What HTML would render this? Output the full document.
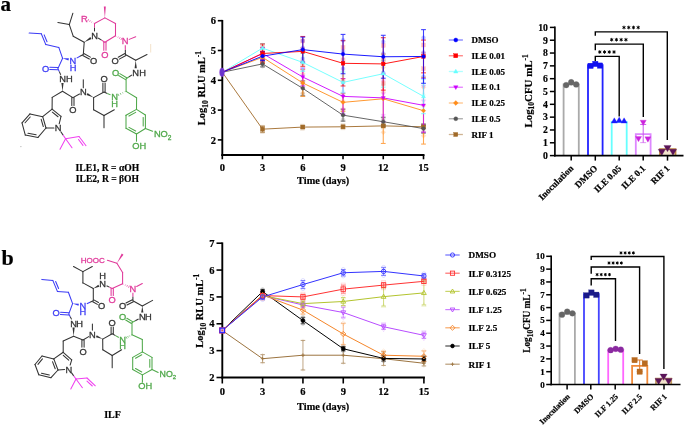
<!DOCTYPE html>
<html><head><meta charset="utf-8"><style>
html,body{margin:0;padding:0;background:#fff;}
body{width:685px;height:426px;overflow:hidden;font-family:"Liberation Serif",serif;}
svg{display:block;will-change:transform;}
</style></head><body>
<svg width="685" height="426" viewBox="0 0 685 426">
<rect width="685" height="426" fill="#fff"/>
<text x="0.6" y="11" font-family='"Liberation Serif", serif' font-size="21" font-weight="bold" fill="#000" text-anchor="start" stroke="#000" stroke-width="0.2" >a</text>
<text x="1.5" y="264.8" font-family='"Liberation Serif", serif' font-size="22" font-weight="bold" fill="#000" text-anchor="start" stroke="#000" stroke-width="0.2" >b</text>
<line x1="29.1" y1="33" x2="41.3" y2="33.8" stroke="#3b3bf5" stroke-width="1.05" stroke-linecap="round"/>
<line x1="45.8" y1="44.6" x2="58.8" y2="47.4" stroke="#3b3bf5" stroke-width="1.05" stroke-linecap="round"/>
<line x1="58.8" y1="47.4" x2="62.6" y2="58.3" stroke="#3b3bf5" stroke-width="1.05" stroke-linecap="round"/>
<line x1="62.6" y1="58.3" x2="57.9" y2="68.6" stroke="#3b3bf5" stroke-width="1.05" stroke-linecap="round"/>
<line x1="41.3" y1="33.8" x2="45.8" y2="44.6" stroke="#3b3bf5" stroke-width="1.05" stroke-linecap="round"/>
<line x1="44.14" y1="34.9" x2="47.02" y2="41.81" stroke="#3b3bf5" stroke-width="1.05" stroke-linecap="round"/>
<polygon points="62.6,58.3 68.47,60.5 68.87,58.34" fill="#3b3bf5"/>
<line x1="57.86" y1="69.7" x2="49.76" y2="69.44" stroke="#3b3bf5" stroke-width="1.05" stroke-linecap="round"/>
<line x1="57.94" y1="67.5" x2="49.83" y2="67.24" stroke="#3b3bf5" stroke-width="1.05" stroke-linecap="round"/>
<line x1="57.9" y1="68.6" x2="59.3" y2="71.65" stroke="#3b3bf5" stroke-width="1.05" stroke-linecap="butt"/>
<line x1="59.3" y1="71.65" x2="60.7" y2="74.69" stroke="#333" stroke-width="1.05" stroke-linecap="butt"/>
<line x1="76.67" y1="58.13" x2="79.99" y2="56.32" stroke="#3b3bf5" stroke-width="1.05" stroke-linecap="butt"/>
<line x1="79.99" y1="56.32" x2="83.3" y2="54.5" stroke="#333" stroke-width="1.05" stroke-linecap="butt"/>
<line x1="83.83" y1="53.54" x2="90.37" y2="57.16" stroke="#333" stroke-width="1.05" stroke-linecap="round"/>
<line x1="82.77" y1="55.46" x2="89.31" y2="59.08" stroke="#333" stroke-width="1.05" stroke-linecap="round"/>
<line x1="83.3" y1="54.5" x2="84.2" y2="42.3" stroke="#333" stroke-width="1.05" stroke-linecap="round"/>
<line x1="84.2" y1="42.3" x2="73.2" y2="36.2" stroke="#333" stroke-width="1.05" stroke-linecap="round"/>
<line x1="73.2" y1="36.2" x2="69.3" y2="24.6" stroke="#333" stroke-width="1.05" stroke-linecap="round"/>
<line x1="69.3" y1="24.6" x2="57.9" y2="22.6" stroke="#333" stroke-width="1.05" stroke-linecap="round"/>
<line x1="69.3" y1="24.6" x2="72.9" y2="13.2" stroke="#333" stroke-width="1.05" stroke-linecap="round"/>
<polygon points="84.2,42.3 91.47,38.95 90.29,37.09" fill="#333"/>
<line x1="94.5" y1="23.5" x2="104.9" y2="17.9" stroke="#e0399a" stroke-width="1.05" stroke-linecap="round"/>
<line x1="104.9" y1="17.9" x2="115.5" y2="23.5" stroke="#e0399a" stroke-width="1.05" stroke-linecap="round"/>
<line x1="115.5" y1="23.5" x2="115.5" y2="35.7" stroke="#e0399a" stroke-width="1.05" stroke-linecap="round"/>
<line x1="94.5" y1="31.4" x2="94.5" y2="27.45" stroke="#333" stroke-width="1.05" stroke-linecap="butt"/>
<line x1="94.5" y1="27.45" x2="94.5" y2="23.5" stroke="#e0399a" stroke-width="1.05" stroke-linecap="butt"/>
<line x1="98.13" y1="38" x2="101.52" y2="40.15" stroke="#333" stroke-width="1.05" stroke-linecap="butt"/>
<line x1="101.52" y1="40.15" x2="104.9" y2="42.3" stroke="#e0399a" stroke-width="1.05" stroke-linecap="butt"/>
<line x1="115.5" y1="35.7" x2="104.9" y2="42.3" stroke="#e0399a" stroke-width="1.05" stroke-linecap="round"/>
<line x1="106" y1="42.3" x2="106" y2="50.2" stroke="#e0399a" stroke-width="1.05" stroke-linecap="round"/>
<line x1="103.8" y1="42.3" x2="103.8" y2="50.2" stroke="#e0399a" stroke-width="1.05" stroke-linecap="round"/>
<line x1="93.63" y1="22.84" x2="93.46" y2="23.16" stroke="#e0399a" stroke-width="0.7" />
<line x1="91.97" y1="21.6" x2="91.49" y2="22.52" stroke="#e0399a" stroke-width="0.7" />
<line x1="90.32" y1="20.36" x2="89.53" y2="21.89" stroke="#e0399a" stroke-width="0.7" />
<line x1="88.67" y1="19.12" x2="87.56" y2="21.25" stroke="#e0399a" stroke-width="0.7" />
<polygon points="104.9,17.9 105.8,6.59 103.8,6.61" fill="#e0399a"/>
<line x1="116.3" y1="36.34" x2="116.48" y2="36.03" stroke="#e0399a" stroke-width="0.7" />
<line x1="117.82" y1="37.56" x2="118.32" y2="36.65" stroke="#e0399a" stroke-width="0.7" />
<line x1="119.33" y1="38.78" x2="120.16" y2="37.27" stroke="#e0399a" stroke-width="0.7" />
<line x1="120.85" y1="39.99" x2="122" y2="37.89" stroke="#e0399a" stroke-width="0.7" />
<line x1="129.18" y1="39.37" x2="135.7" y2="36.7" stroke="#e0399a" stroke-width="1.05" stroke-linecap="round"/>
<line x1="125.26" y1="45.3" x2="125.33" y2="49.9" stroke="#e0399a" stroke-width="1.05" stroke-linecap="butt"/>
<line x1="125.33" y1="49.9" x2="125.4" y2="54.5" stroke="#333" stroke-width="1.05" stroke-linecap="butt"/>
<line x1="125.93" y1="55.46" x2="119.3" y2="59.1" stroke="#333" stroke-width="1.05" stroke-linecap="round"/>
<line x1="124.87" y1="53.54" x2="118.24" y2="57.17" stroke="#333" stroke-width="1.05" stroke-linecap="round"/>
<line x1="125.4" y1="54.5" x2="135.7" y2="60.2" stroke="#333" stroke-width="1.05" stroke-linecap="round"/>
<line x1="135.7" y1="60.2" x2="147" y2="54.5" stroke="#333" stroke-width="1.05" stroke-linecap="round"/>
<polygon points="135.7,60.2 134.6,68.3 136.8,68.3" fill="#333"/>
<line x1="132.07" y1="74.91" x2="129.09" y2="76.8" stroke="#333" stroke-width="1.05" stroke-linecap="butt"/>
<line x1="129.09" y1="76.8" x2="126.1" y2="78.7" stroke="#4fa84a" stroke-width="1.05" stroke-linecap="butt"/>
<line x1="125.54" y1="79.65" x2="118.63" y2="75.54" stroke="#4fa84a" stroke-width="1.05" stroke-linecap="round"/>
<line x1="126.66" y1="77.75" x2="119.76" y2="73.65" stroke="#4fa84a" stroke-width="1.05" stroke-linecap="round"/>
<line x1="126.1" y1="78.7" x2="126.1" y2="91.4" stroke="#4fa84a" stroke-width="1.05" stroke-linecap="round"/>
<line x1="124.87" y1="91.75" x2="125.02" y2="92.08" stroke="#4fa84a" stroke-width="0.7" />
<line x1="122.56" y1="92.42" x2="122.99" y2="93.37" stroke="#4fa84a" stroke-width="0.7" />
<line x1="120.25" y1="93.08" x2="120.95" y2="94.65" stroke="#4fa84a" stroke-width="0.7" />
<line x1="117.93" y1="93.75" x2="118.91" y2="95.94" stroke="#4fa84a" stroke-width="0.7" />
<line x1="126.1" y1="91.4" x2="136.6" y2="97.7" stroke="#4fa84a" stroke-width="1.05" stroke-linecap="round"/>
<line x1="136.6" y1="97.7" x2="136.5" y2="109.4" stroke="#4fa84a" stroke-width="1.05" stroke-linecap="round"/>
<line x1="136.5" y1="109.4" x2="145.4" y2="115" stroke="#4fa84a" stroke-width="1.05" stroke-linecap="round"/>
<line x1="145.4" y1="115" x2="145.4" y2="128.5" stroke="#4fa84a" stroke-width="1.05" stroke-linecap="round"/>
<line x1="143.2" y1="117.43" x2="143.2" y2="126.07" stroke="#4fa84a" stroke-width="1.05" stroke-linecap="round"/>
<line x1="145.4" y1="128.5" x2="136.5" y2="134" stroke="#4fa84a" stroke-width="1.05" stroke-linecap="round"/>
<line x1="136.5" y1="134" x2="126" y2="128.3" stroke="#4fa84a" stroke-width="1.05" stroke-linecap="round"/>
<line x1="135.66" y1="131.04" x2="128.94" y2="127.39" stroke="#4fa84a" stroke-width="1.05" stroke-linecap="round"/>
<line x1="126" y1="128.3" x2="126" y2="115.2" stroke="#4fa84a" stroke-width="1.05" stroke-linecap="round"/>
<line x1="126" y1="115.2" x2="136.5" y2="109.4" stroke="#4fa84a" stroke-width="1.05" stroke-linecap="round"/>
<line x1="128.95" y1="116.08" x2="135.67" y2="112.37" stroke="#4fa84a" stroke-width="1.05" stroke-linecap="round"/>
<line x1="145.4" y1="128.5" x2="152.6" y2="131.2" stroke="#4fa84a" stroke-width="1.05" stroke-linecap="round"/>
<line x1="136.5" y1="134" x2="136.5" y2="141.2" stroke="#4fa84a" stroke-width="1.05" stroke-linecap="round"/>
<polygon points="62.5,91.2 63.6,82.9 61.4,82.9" fill="#333"/>
<line x1="62.5" y1="91.2" x2="52.2" y2="97.4" stroke="#333" stroke-width="1.05" stroke-linecap="round"/>
<line x1="52.2" y1="97.4" x2="52.1" y2="109.2" stroke="#333" stroke-width="1.05" stroke-linecap="round"/>
<line x1="62.5" y1="91.2" x2="72.9" y2="97.6" stroke="#333" stroke-width="1.05" stroke-linecap="round"/>
<line x1="74" y1="97.6" x2="74" y2="105.5" stroke="#333" stroke-width="1.05" stroke-linecap="round"/>
<line x1="71.8" y1="97.6" x2="71.8" y2="105.5" stroke="#333" stroke-width="1.05" stroke-linecap="round"/>
<line x1="72.9" y1="97.6" x2="79.51" y2="94.04" stroke="#333" stroke-width="1.05" stroke-linecap="round"/>
<line x1="83.3" y1="87.7" x2="83.3" y2="79.7" stroke="#333" stroke-width="1.05" stroke-linecap="round"/>
<polygon points="93.6,97.6 87.6,93.09 86.55,95.02" fill="#333"/>
<line x1="93.6" y1="97.6" x2="104" y2="92" stroke="#333" stroke-width="1.05" stroke-linecap="round"/>
<line x1="102.9" y1="92" x2="102.9" y2="83.1" stroke="#333" stroke-width="1.05" stroke-linecap="round"/>
<line x1="105.1" y1="92" x2="105.1" y2="83.1" stroke="#333" stroke-width="1.05" stroke-linecap="round"/>
<line x1="104" y1="92" x2="107.28" y2="93.44" stroke="#333" stroke-width="1.05" stroke-linecap="butt"/>
<line x1="107.28" y1="93.44" x2="110.56" y2="94.87" stroke="#4fa84a" stroke-width="1.05" stroke-linecap="butt"/>
<line x1="93.6" y1="97.6" x2="93.6" y2="109.8" stroke="#333" stroke-width="1.05" stroke-linecap="round"/>
<line x1="93.6" y1="109.8" x2="104" y2="115.5" stroke="#333" stroke-width="1.05" stroke-linecap="round"/>
<line x1="104" y1="115.5" x2="104" y2="127.7" stroke="#333" stroke-width="1.05" stroke-linecap="round"/>
<line x1="104" y1="115.5" x2="114.3" y2="109.8" stroke="#333" stroke-width="1.05" stroke-linecap="round"/>
<line x1="52.1" y1="109.2" x2="61" y2="116.3" stroke="#333" stroke-width="1.05" stroke-linecap="round"/>
<line x1="52.33" y1="112.2" x2="58.03" y2="116.74" stroke="#333" stroke-width="1.05" stroke-linecap="round"/>
<line x1="61" y1="116.3" x2="59.2" y2="123.82" stroke="#333" stroke-width="1.05" stroke-linecap="round"/>
<line x1="53.9" y1="128" x2="46" y2="128" stroke="#333" stroke-width="1.05" stroke-linecap="round"/>
<line x1="46" y1="128" x2="42.7" y2="116.7" stroke="#333" stroke-width="1.05" stroke-linecap="round"/>
<line x1="43.29" y1="126.58" x2="41.18" y2="119.35" stroke="#333" stroke-width="1.05" stroke-linecap="round"/>
<line x1="42.7" y1="116.7" x2="52.1" y2="109.2" stroke="#333" stroke-width="1.05" stroke-linecap="round"/>
<line x1="42.7" y1="116.7" x2="30" y2="113.9" stroke="#333" stroke-width="1.05" stroke-linecap="round"/>
<line x1="30" y1="113.9" x2="22" y2="122.9" stroke="#333" stroke-width="1.05" stroke-linecap="round"/>
<line x1="30.2" y1="116.98" x2="25.08" y2="122.74" stroke="#333" stroke-width="1.05" stroke-linecap="round"/>
<line x1="22" y1="122.9" x2="25.3" y2="135.1" stroke="#333" stroke-width="1.05" stroke-linecap="round"/>
<line x1="25.3" y1="135.1" x2="38" y2="137.4" stroke="#333" stroke-width="1.05" stroke-linecap="round"/>
<line x1="27.98" y1="133.35" x2="36.11" y2="134.82" stroke="#333" stroke-width="1.05" stroke-linecap="round"/>
<line x1="38" y1="137.4" x2="46" y2="128" stroke="#333" stroke-width="1.05" stroke-linecap="round"/>
<line x1="60.65" y1="131.54" x2="63.12" y2="135.12" stroke="#333" stroke-width="1.05" stroke-linecap="butt"/>
<line x1="63.12" y1="135.12" x2="65.6" y2="138.7" stroke="#f040f0" stroke-width="1.05" stroke-linecap="butt"/>
<line x1="65.6" y1="138.7" x2="60" y2="149.2" stroke="#f040f0" stroke-width="1.05" stroke-linecap="round"/>
<line x1="65.6" y1="138.7" x2="72" y2="147.8" stroke="#f040f0" stroke-width="1.05" stroke-linecap="round"/>
<line x1="65.6" y1="138.7" x2="79" y2="136.5" stroke="#f040f0" stroke-width="1.05" stroke-linecap="round"/>
<line x1="79" y1="136.5" x2="86" y2="145.7" stroke="#f040f0" stroke-width="1.05" stroke-linecap="round"/>
<line x1="78.51" y1="139.49" x2="82.99" y2="145.38" stroke="#f040f0" stroke-width="1.05" stroke-linecap="round"/>
<text x="72.9" y="63.55" font-family='"Liberation Sans", sans-serif' font-size="9.3" font-weight="normal" fill="#3b3bf5" text-anchor="middle" stroke="#3b3bf5" stroke-width="0.3" >N</text>
<text x="45.5" y="71.55" font-family='"Liberation Sans", sans-serif' font-size="9.3" font-weight="normal" fill="#3b3bf5" text-anchor="middle" stroke="#3b3bf5" stroke-width="0.3" >O</text>
<text x="62.5" y="81.95" font-family='"Liberation Sans", sans-serif' font-size="9.3" font-weight="normal" fill="#333" text-anchor="middle" stroke="#333" stroke-width="0.3" >N</text>
<text x="93.6" y="63.55" font-family='"Liberation Sans", sans-serif' font-size="9.3" font-weight="normal" fill="#333" text-anchor="middle" stroke="#333" stroke-width="0.3" >O</text>
<text x="94.5" y="39.05" font-family='"Liberation Sans", sans-serif' font-size="9.3" font-weight="normal" fill="#333" text-anchor="middle" stroke="#333" stroke-width="0.3" >N</text>
<text x="104.9" y="57.85" font-family='"Liberation Sans", sans-serif' font-size="9.3" font-weight="normal" fill="#e0399a" text-anchor="middle" stroke="#e0399a" stroke-width="0.3" >O</text>
<text x="84.3" y="21.55" font-family='"Liberation Sans", sans-serif' font-size="9.3" font-weight="normal" fill="#e0399a" text-anchor="middle" stroke="#e0399a" stroke-width="0.3" >R</text>
<text x="125.2" y="44.35" font-family='"Liberation Sans", sans-serif' font-size="9.3" font-weight="normal" fill="#e0399a" text-anchor="middle" stroke="#e0399a" stroke-width="0.3" >N</text>
<text x="115" y="63.55" font-family='"Liberation Sans", sans-serif' font-size="9.3" font-weight="normal" fill="#333" text-anchor="middle" stroke="#333" stroke-width="0.3" >O</text>
<text x="135.7" y="75.95" font-family='"Liberation Sans", sans-serif' font-size="9.3" font-weight="normal" fill="#333" text-anchor="middle" stroke="#333" stroke-width="0.3" >N</text>
<text x="115.5" y="75.75" font-family='"Liberation Sans", sans-serif' font-size="9.3" font-weight="normal" fill="#4fa84a" text-anchor="middle" stroke="#4fa84a" stroke-width="0.3" >O</text>
<text x="114.5" y="99.95" font-family='"Liberation Sans", sans-serif' font-size="9.3" font-weight="normal" fill="#4fa84a" text-anchor="middle" stroke="#4fa84a" stroke-width="0.3" >N</text>
<text x="72.9" y="113.15" font-family='"Liberation Sans", sans-serif' font-size="9.3" font-weight="normal" fill="#333" text-anchor="middle" stroke="#333" stroke-width="0.3" >O</text>
<text x="83.3" y="95.35" font-family='"Liberation Sans", sans-serif' font-size="9.3" font-weight="normal" fill="#333" text-anchor="middle" stroke="#333" stroke-width="0.3" >N</text>
<text x="104" y="82.15" font-family='"Liberation Sans", sans-serif' font-size="9.3" font-weight="normal" fill="#333" text-anchor="middle" stroke="#333" stroke-width="0.3" >O</text>
<text x="58.2" y="131.35" font-family='"Liberation Sans", sans-serif' font-size="9.3" font-weight="normal" fill="#333" text-anchor="middle" stroke="#333" stroke-width="0.3" >N</text>
<circle cx="20.9" cy="146.6" r="0.6" fill="#aaa"/>
<line x1="150.7" y1="44" x2="150.7" y2="52.5" stroke="#f2dfc4" stroke-width="0.9"/>
<text x="73.1" y="71.05" font-family='"Liberation Sans", sans-serif' font-size="9.3" font-weight="normal" fill="#3b3bf5" text-anchor="middle" stroke="#3b3bf5" stroke-width="0.3" >H</text>
<text x="69.4" y="81.95" font-family='"Liberation Sans", sans-serif' font-size="9.3" font-weight="normal" fill="#333" text-anchor="middle" stroke="#333" stroke-width="0.3" >H</text>
<text x="142.5" y="75.95" font-family='"Liberation Sans", sans-serif' font-size="9.3" font-weight="normal" fill="#333" text-anchor="middle" stroke="#333" stroke-width="0.3" >H</text>
<text x="114.5" y="107.35" font-family='"Liberation Sans", sans-serif' font-size="9.3" font-weight="normal" fill="#4fa84a" text-anchor="middle" stroke="#4fa84a" stroke-width="0.3" >H</text>
<text x="153.9" y="137.35" font-family='"Liberation Sans", sans-serif' font-size="9.3" font-weight="normal" fill="#4fa84a" text-anchor="start" stroke="#4fa84a" stroke-width="0.3" >NO<tspan font-size="6.6" dy="2.2">2</tspan></text>
<text x="139.3" y="149.05" font-family='"Liberation Sans", sans-serif' font-size="9.3" font-weight="normal" fill="#4fa84a" text-anchor="middle" stroke="#4fa84a" stroke-width="0.3" >OH</text>
<text x="107.4" y="171" font-family='"Liberation Serif", serif' font-size="9.6" font-weight="bold" fill="#000" text-anchor="middle" stroke="#000" stroke-width="0.2" >ILE1, R = αOH</text>
<text x="107.4" y="181.5" font-family='"Liberation Serif", serif' font-size="9.6" font-weight="bold" fill="#000" text-anchor="middle" stroke="#000" stroke-width="0.2" >ILE2, R = βOH</text>
<line x1="41.8" y1="279.4" x2="52.8" y2="280.4" stroke="#3b3bf5" stroke-width="1.05" stroke-linecap="round"/>
<line x1="57.4" y1="291.4" x2="68.4" y2="292.3" stroke="#3b3bf5" stroke-width="1.05" stroke-linecap="round"/>
<line x1="68.4" y1="292.3" x2="72.6" y2="303.6" stroke="#3b3bf5" stroke-width="1.05" stroke-linecap="round"/>
<line x1="72.6" y1="303.6" x2="68.8" y2="313.9" stroke="#3b3bf5" stroke-width="1.05" stroke-linecap="round"/>
<line x1="52.8" y1="280.4" x2="57.4" y2="291.4" stroke="#3b3bf5" stroke-width="1.05" stroke-linecap="round"/>
<line x1="55.66" y1="281.53" x2="58.6" y2="288.57" stroke="#3b3bf5" stroke-width="1.05" stroke-linecap="round"/>
<polygon points="72.6,303.6 78.47,305.8 78.87,303.64" fill="#3b3bf5"/>
<line x1="68.72" y1="315" x2="60.41" y2="314.4" stroke="#3b3bf5" stroke-width="1.05" stroke-linecap="round"/>
<line x1="68.88" y1="312.8" x2="60.57" y2="312.21" stroke="#3b3bf5" stroke-width="1.05" stroke-linecap="round"/>
<line x1="68.8" y1="313.9" x2="70.21" y2="316.64" stroke="#3b3bf5" stroke-width="1.05" stroke-linecap="butt"/>
<line x1="70.21" y1="316.64" x2="71.63" y2="319.38" stroke="#333" stroke-width="1.05" stroke-linecap="butt"/>
<line x1="86.82" y1="303.73" x2="90.06" y2="302.26" stroke="#3b3bf5" stroke-width="1.05" stroke-linecap="butt"/>
<line x1="90.06" y1="302.26" x2="93.3" y2="300.8" stroke="#333" stroke-width="1.05" stroke-linecap="butt"/>
<line x1="93.84" y1="299.84" x2="98.48" y2="302.44" stroke="#333" stroke-width="1.05" stroke-linecap="round"/>
<line x1="92.76" y1="301.76" x2="97.41" y2="304.36" stroke="#333" stroke-width="1.05" stroke-linecap="round"/>
<line x1="93.3" y1="300.8" x2="93.3" y2="288.5" stroke="#333" stroke-width="1.05" stroke-linecap="round"/>
<polygon points="93.3,288.5 99.35,286.71 98.36,284.74" fill="#333"/>
<line x1="93.3" y1="288.5" x2="82.9" y2="282.9" stroke="#333" stroke-width="1.05" stroke-linecap="round"/>
<line x1="82.9" y1="282.9" x2="82.9" y2="271.6" stroke="#333" stroke-width="1.05" stroke-linecap="round"/>
<line x1="82.9" y1="271.6" x2="73.5" y2="266.5" stroke="#333" stroke-width="1.05" stroke-linecap="round"/>
<line x1="82.9" y1="271.6" x2="92.3" y2="266.5" stroke="#333" stroke-width="1.05" stroke-linecap="round"/>
<line x1="106.55" y1="285.71" x2="109.38" y2="287.1" stroke="#333" stroke-width="1.05" stroke-linecap="butt"/>
<line x1="109.38" y1="287.1" x2="112.2" y2="288.5" stroke="#e0399a" stroke-width="1.05" stroke-linecap="butt"/>
<line x1="113.3" y1="288.5" x2="113.3" y2="295.5" stroke="#e0399a" stroke-width="1.05" stroke-linecap="round"/>
<line x1="111.1" y1="288.5" x2="111.1" y2="295.5" stroke="#e0399a" stroke-width="1.05" stroke-linecap="round"/>
<line x1="112.2" y1="288.5" x2="122.6" y2="283.8" stroke="#e0399a" stroke-width="1.05" stroke-linecap="round"/>
<line x1="123.48" y1="284.4" x2="123.63" y2="284.07" stroke="#e0399a" stroke-width="0.7" />
<line x1="125.15" y1="285.54" x2="125.58" y2="284.59" stroke="#e0399a" stroke-width="0.7" />
<line x1="126.82" y1="286.67" x2="127.54" y2="285.11" stroke="#e0399a" stroke-width="0.7" />
<line x1="128.49" y1="287.81" x2="129.49" y2="285.62" stroke="#e0399a" stroke-width="0.7" />
<line x1="122.6" y1="283.8" x2="122.6" y2="272.6" stroke="#e0399a" stroke-width="1.05" stroke-linecap="round"/>
<line x1="122.6" y1="272.6" x2="116.9" y2="263.2" stroke="#e0399a" stroke-width="1.05" stroke-linecap="round"/>
<polygon points="116.9,263.2 123.45,254.63 121.75,253.57" fill="#e0399a"/>
<line x1="116.9" y1="263.2" x2="107.4" y2="260.3" stroke="#e0399a" stroke-width="1.05" stroke-linecap="round"/>
<line x1="136.7" y1="286.48" x2="142.3" y2="283.5" stroke="#e0399a" stroke-width="1.05" stroke-linecap="round"/>
<line x1="132.9" y1="292.8" x2="132.9" y2="296.8" stroke="#e0399a" stroke-width="1.05" stroke-linecap="butt"/>
<line x1="132.9" y1="296.8" x2="132.9" y2="300.8" stroke="#333" stroke-width="1.05" stroke-linecap="butt"/>
<line x1="133.4" y1="301.78" x2="126.93" y2="305.04" stroke="#333" stroke-width="1.05" stroke-linecap="round"/>
<line x1="132.4" y1="299.82" x2="125.94" y2="303.08" stroke="#333" stroke-width="1.05" stroke-linecap="round"/>
<line x1="132.9" y1="300.8" x2="142.3" y2="306" stroke="#333" stroke-width="1.05" stroke-linecap="round"/>
<line x1="142.3" y1="306" x2="152.6" y2="300.4" stroke="#333" stroke-width="1.05" stroke-linecap="round"/>
<polygon points="142.3,306 141.2,312.6 143.4,312.6" fill="#333"/>
<line x1="138.54" y1="318.98" x2="135.27" y2="320.79" stroke="#333" stroke-width="1.05" stroke-linecap="butt"/>
<line x1="135.27" y1="320.79" x2="132" y2="322.6" stroke="#4fa84a" stroke-width="1.05" stroke-linecap="butt"/>
<line x1="131.43" y1="323.54" x2="125.71" y2="320.07" stroke="#4fa84a" stroke-width="1.05" stroke-linecap="round"/>
<line x1="132.57" y1="321.66" x2="126.85" y2="318.19" stroke="#4fa84a" stroke-width="1.05" stroke-linecap="round"/>
<line x1="132" y1="322.6" x2="132" y2="334.8" stroke="#4fa84a" stroke-width="1.05" stroke-linecap="round"/>
<line x1="131.09" y1="335.06" x2="131.25" y2="335.38" stroke="#4fa84a" stroke-width="0.7" />
<line x1="129.36" y1="335.54" x2="129.83" y2="336.47" stroke="#4fa84a" stroke-width="0.7" />
<line x1="127.64" y1="336.02" x2="128.4" y2="337.56" stroke="#4fa84a" stroke-width="0.7" />
<line x1="125.91" y1="336.5" x2="126.98" y2="338.65" stroke="#4fa84a" stroke-width="0.7" />
<line x1="132" y1="334.8" x2="142.3" y2="339.5" stroke="#4fa84a" stroke-width="1.05" stroke-linecap="round"/>
<line x1="142.3" y1="339.5" x2="142.4" y2="351.9" stroke="#4fa84a" stroke-width="1.05" stroke-linecap="round"/>
<line x1="142.4" y1="351.9" x2="152" y2="357.4" stroke="#4fa84a" stroke-width="1.05" stroke-linecap="round"/>
<line x1="152" y1="357.4" x2="152" y2="369.5" stroke="#4fa84a" stroke-width="1.05" stroke-linecap="round"/>
<line x1="149.8" y1="359.58" x2="149.8" y2="367.32" stroke="#4fa84a" stroke-width="1.05" stroke-linecap="round"/>
<line x1="152" y1="369.5" x2="142.4" y2="374.9" stroke="#4fa84a" stroke-width="1.05" stroke-linecap="round"/>
<line x1="142.4" y1="374.9" x2="132.7" y2="369.5" stroke="#4fa84a" stroke-width="1.05" stroke-linecap="round"/>
<line x1="141.72" y1="372.01" x2="135.52" y2="368.55" stroke="#4fa84a" stroke-width="1.05" stroke-linecap="round"/>
<line x1="132.7" y1="369.5" x2="132.7" y2="357.4" stroke="#4fa84a" stroke-width="1.05" stroke-linecap="round"/>
<line x1="132.7" y1="357.4" x2="142.4" y2="351.9" stroke="#4fa84a" stroke-width="1.05" stroke-linecap="round"/>
<line x1="135.53" y1="358.32" x2="141.74" y2="354.8" stroke="#4fa84a" stroke-width="1.05" stroke-linecap="round"/>
<line x1="152" y1="369.5" x2="158.2" y2="372.4" stroke="#4fa84a" stroke-width="1.05" stroke-linecap="round"/>
<line x1="142.4" y1="374.9" x2="142.4" y2="382.2" stroke="#4fa84a" stroke-width="1.05" stroke-linecap="round"/>
<polygon points="73.6,336.3 74.7,327.5 72.5,327.5" fill="#333"/>
<line x1="73.6" y1="336.3" x2="63.2" y2="341" stroke="#333" stroke-width="1.05" stroke-linecap="round"/>
<line x1="63.2" y1="341" x2="63.2" y2="352.3" stroke="#333" stroke-width="1.05" stroke-linecap="round"/>
<line x1="73.6" y1="336.3" x2="83" y2="340" stroke="#333" stroke-width="1.05" stroke-linecap="round"/>
<line x1="84.1" y1="340" x2="84.1" y2="347.1" stroke="#333" stroke-width="1.05" stroke-linecap="round"/>
<line x1="81.9" y1="340" x2="81.9" y2="347.1" stroke="#333" stroke-width="1.05" stroke-linecap="round"/>
<line x1="83" y1="340" x2="88.71" y2="336.6" stroke="#333" stroke-width="1.05" stroke-linecap="round"/>
<line x1="92.4" y1="330.1" x2="92.4" y2="324.1" stroke="#333" stroke-width="1.05" stroke-linecap="round"/>
<polygon points="102.7,339.1 96.77,335.18 95.86,337.19" fill="#333"/>
<line x1="102.7" y1="339.1" x2="112.2" y2="333.8" stroke="#333" stroke-width="1.05" stroke-linecap="round"/>
<line x1="111.1" y1="333.8" x2="111.1" y2="326.9" stroke="#333" stroke-width="1.05" stroke-linecap="round"/>
<line x1="113.3" y1="333.8" x2="113.3" y2="326.9" stroke="#333" stroke-width="1.05" stroke-linecap="round"/>
<line x1="112.2" y1="333.8" x2="115.51" y2="335.62" stroke="#333" stroke-width="1.05" stroke-linecap="butt"/>
<line x1="115.51" y1="335.62" x2="118.83" y2="337.43" stroke="#4fa84a" stroke-width="1.05" stroke-linecap="butt"/>
<line x1="102.7" y1="339.1" x2="102.8" y2="349.8" stroke="#333" stroke-width="1.05" stroke-linecap="round"/>
<line x1="102.8" y1="349.8" x2="112.2" y2="355.5" stroke="#333" stroke-width="1.05" stroke-linecap="round"/>
<line x1="112.2" y1="355.5" x2="112.2" y2="367.7" stroke="#333" stroke-width="1.05" stroke-linecap="round"/>
<line x1="112.2" y1="355.5" x2="121.6" y2="349.8" stroke="#333" stroke-width="1.05" stroke-linecap="round"/>
<line x1="63.2" y1="352.3" x2="71.7" y2="359.8" stroke="#333" stroke-width="1.05" stroke-linecap="round"/>
<line x1="63.27" y1="355.3" x2="68.71" y2="360.1" stroke="#333" stroke-width="1.05" stroke-linecap="round"/>
<line x1="71.7" y1="359.8" x2="70.13" y2="365.08" stroke="#333" stroke-width="1.05" stroke-linecap="round"/>
<line x1="64.61" y1="369.51" x2="58" y2="370" stroke="#333" stroke-width="1.05" stroke-linecap="round"/>
<line x1="58" y1="370" x2="53.8" y2="358.9" stroke="#333" stroke-width="1.05" stroke-linecap="round"/>
<line x1="55.19" y1="368.78" x2="52.5" y2="361.68" stroke="#333" stroke-width="1.05" stroke-linecap="round"/>
<line x1="53.8" y1="358.9" x2="63.2" y2="352.3" stroke="#333" stroke-width="1.05" stroke-linecap="round"/>
<line x1="53.8" y1="358.9" x2="42" y2="356" stroke="#333" stroke-width="1.05" stroke-linecap="round"/>
<line x1="42" y1="356" x2="35" y2="364.5" stroke="#333" stroke-width="1.05" stroke-linecap="round"/>
<line x1="42.44" y1="358.93" x2="37.96" y2="364.37" stroke="#333" stroke-width="1.05" stroke-linecap="round"/>
<line x1="35" y1="364.5" x2="38.8" y2="374.8" stroke="#333" stroke-width="1.05" stroke-linecap="round"/>
<line x1="38.8" y1="374.8" x2="51" y2="377.7" stroke="#333" stroke-width="1.05" stroke-linecap="round"/>
<line x1="41.5" y1="373.18" x2="49.31" y2="375.04" stroke="#333" stroke-width="1.05" stroke-linecap="round"/>
<line x1="51" y1="377.7" x2="58" y2="370" stroke="#333" stroke-width="1.05" stroke-linecap="round"/>
<line x1="71.42" y1="372.68" x2="73.71" y2="375.84" stroke="#333" stroke-width="1.05" stroke-linecap="butt"/>
<line x1="73.71" y1="375.84" x2="76" y2="379" stroke="#f040f0" stroke-width="1.05" stroke-linecap="butt"/>
<line x1="76" y1="379" x2="70.8" y2="389" stroke="#f040f0" stroke-width="1.05" stroke-linecap="round"/>
<line x1="76" y1="379" x2="82.4" y2="387.7" stroke="#f040f0" stroke-width="1.05" stroke-linecap="round"/>
<line x1="76" y1="379" x2="87" y2="378" stroke="#f040f0" stroke-width="1.05" stroke-linecap="round"/>
<line x1="87" y1="378" x2="95.3" y2="385.8" stroke="#f040f0" stroke-width="1.05" stroke-linecap="round"/>
<line x1="86.99" y1="381.01" x2="92.3" y2="386" stroke="#f040f0" stroke-width="1.05" stroke-linecap="round"/>
<text x="82.9" y="308.85" font-family='"Liberation Sans", sans-serif' font-size="9.3" font-weight="normal" fill="#3b3bf5" text-anchor="middle" stroke="#3b3bf5" stroke-width="0.3" >N</text>
<text x="56.2" y="316.35" font-family='"Liberation Sans", sans-serif' font-size="9.3" font-weight="normal" fill="#3b3bf5" text-anchor="middle" stroke="#3b3bf5" stroke-width="0.3" >O</text>
<text x="73.6" y="326.55" font-family='"Liberation Sans", sans-serif' font-size="9.3" font-weight="normal" fill="#333" text-anchor="middle" stroke="#333" stroke-width="0.3" >N</text>
<text x="101.7" y="308.85" font-family='"Liberation Sans", sans-serif' font-size="9.3" font-weight="normal" fill="#333" text-anchor="middle" stroke="#333" stroke-width="0.3" >O</text>
<text x="102.7" y="287.15" font-family='"Liberation Sans", sans-serif' font-size="9.3" font-weight="normal" fill="#333" text-anchor="middle" stroke="#333" stroke-width="0.3" >N</text>
<text x="112.2" y="303.15" font-family='"Liberation Sans", sans-serif' font-size="9.3" font-weight="normal" fill="#e0399a" text-anchor="middle" stroke="#e0399a" stroke-width="0.3" >O</text>
<text x="132.9" y="291.85" font-family='"Liberation Sans", sans-serif' font-size="9.3" font-weight="normal" fill="#e0399a" text-anchor="middle" stroke="#e0399a" stroke-width="0.3" >N</text>
<text x="122.6" y="309.35" font-family='"Liberation Sans", sans-serif' font-size="9.3" font-weight="normal" fill="#333" text-anchor="middle" stroke="#333" stroke-width="0.3" >O</text>
<text x="142.3" y="320.25" font-family='"Liberation Sans", sans-serif' font-size="9.3" font-weight="normal" fill="#333" text-anchor="middle" stroke="#333" stroke-width="0.3" >N</text>
<text x="122.6" y="320.25" font-family='"Liberation Sans", sans-serif' font-size="9.3" font-weight="normal" fill="#4fa84a" text-anchor="middle" stroke="#4fa84a" stroke-width="0.3" >O</text>
<text x="122.6" y="342.85" font-family='"Liberation Sans", sans-serif' font-size="9.3" font-weight="normal" fill="#4fa84a" text-anchor="middle" stroke="#4fa84a" stroke-width="0.3" >N</text>
<text x="83" y="354.75" font-family='"Liberation Sans", sans-serif' font-size="9.3" font-weight="normal" fill="#333" text-anchor="middle" stroke="#333" stroke-width="0.3" >O</text>
<text x="92.4" y="337.75" font-family='"Liberation Sans", sans-serif' font-size="9.3" font-weight="normal" fill="#333" text-anchor="middle" stroke="#333" stroke-width="0.3" >N</text>
<text x="112.2" y="325.95" font-family='"Liberation Sans", sans-serif' font-size="9.3" font-weight="normal" fill="#333" text-anchor="middle" stroke="#333" stroke-width="0.3" >O</text>
<text x="68.9" y="372.55" font-family='"Liberation Sans", sans-serif' font-size="9.3" font-weight="normal" fill="#333" text-anchor="middle" stroke="#333" stroke-width="0.3" >N</text>
<text x="82.9" y="315.35" font-family='"Liberation Sans", sans-serif' font-size="9.3" font-weight="normal" fill="#3b3bf5" text-anchor="middle" stroke="#3b3bf5" stroke-width="0.3" >H</text>
<text x="79.6" y="326.55" font-family='"Liberation Sans", sans-serif' font-size="9.3" font-weight="normal" fill="#333" text-anchor="middle" stroke="#333" stroke-width="0.3" >H</text>
<text x="102.7" y="278.75" font-family='"Liberation Sans", sans-serif' font-size="9.3" font-weight="normal" fill="#333" text-anchor="middle" stroke="#333" stroke-width="0.3" >H</text>
<text x="148.3" y="320.25" font-family='"Liberation Sans", sans-serif' font-size="9.3" font-weight="normal" fill="#333" text-anchor="middle" stroke="#333" stroke-width="0.3" >H</text>
<text x="122.6" y="349.35" font-family='"Liberation Sans", sans-serif' font-size="9.3" font-weight="normal" fill="#4fa84a" text-anchor="middle" stroke="#4fa84a" stroke-width="0.3" >H</text>
<text x="104.7" y="263.2" font-family='"Liberation Sans", sans-serif' font-size="8.0" font-weight="normal" fill="#e0399a" text-anchor="end" stroke="#e0399a" stroke-width="0.3" >HOOC</text>
<text x="159.6" y="377.4" font-family='"Liberation Sans", sans-serif' font-size="8.8" font-weight="normal" fill="#4fa84a" text-anchor="start" stroke="#4fa84a" stroke-width="0.3" >NO<tspan font-size="6.0" dy="2.0">2</tspan></text>
<text x="145.3" y="389.15" font-family='"Liberation Sans", sans-serif' font-size="9.3" font-weight="normal" fill="#4fa84a" text-anchor="middle" stroke="#4fa84a" stroke-width="0.3" >OH</text>
<text x="112.5" y="418.3" font-family='"Liberation Serif", serif' font-size="10" font-weight="bold" fill="#000" text-anchor="middle" stroke="#000" stroke-width="0.2" >ILF</text>
<line x1="222.3" y1="19.9" x2="222.3" y2="156" stroke="#000" stroke-width="1.9" />
<line x1="217.8" y1="20.7" x2="222.3" y2="20.7" stroke="#000" stroke-width="1.6" />
<text x="216.1" y="24.3" font-family='"Liberation Serif", serif' font-size="10.5" font-weight="bold" fill="#000" text-anchor="end" stroke="#000" stroke-width="0.2" >6</text>
<line x1="217.8" y1="50.5" x2="222.3" y2="50.5" stroke="#000" stroke-width="1.6" />
<text x="216.1" y="54.1" font-family='"Liberation Serif", serif' font-size="10.5" font-weight="bold" fill="#000" text-anchor="end" stroke="#000" stroke-width="0.2" >5</text>
<line x1="217.8" y1="80.3" x2="222.3" y2="80.3" stroke="#000" stroke-width="1.6" />
<text x="216.1" y="83.9" font-family='"Liberation Serif", serif' font-size="10.5" font-weight="bold" fill="#000" text-anchor="end" stroke="#000" stroke-width="0.2" >4</text>
<line x1="217.8" y1="110.1" x2="222.3" y2="110.1" stroke="#000" stroke-width="1.6" />
<text x="216.1" y="113.7" font-family='"Liberation Serif", serif' font-size="10.5" font-weight="bold" fill="#000" text-anchor="end" stroke="#000" stroke-width="0.2" >3</text>
<line x1="217.8" y1="139.9" x2="222.3" y2="139.9" stroke="#000" stroke-width="1.6" />
<text x="216.1" y="143.5" font-family='"Liberation Serif", serif' font-size="10.5" font-weight="bold" fill="#000" text-anchor="end" stroke="#000" stroke-width="0.2" >2</text>
<line x1="221.3" y1="155" x2="424.5" y2="155" stroke="#000" stroke-width="1.9" />
<g opacity="0.75">
<line x1="262.54" y1="126.19" x2="262.54" y2="132.15" stroke="#a06a28" stroke-width="1.1" />
<line x1="260.14" y1="126.19" x2="264.94" y2="126.19" stroke="#a06a28" stroke-width="1.1" />
<line x1="260.14" y1="132.15" x2="264.94" y2="132.15" stroke="#a06a28" stroke-width="1.1" />
</g>
<rect x="260.54" y="129.41" width="4" height="4" fill="#a06a28" stroke="#a06a28" stroke-width="0.4" opacity="0.25"/>
<rect x="260.54" y="126.72" width="4" height="4" fill="#a06a28" stroke="#a06a28" stroke-width="0.4" opacity="0.25"/>
<rect x="260.54" y="125.09" width="4" height="4" fill="#a06a28" stroke="#a06a28" stroke-width="0.4" opacity="0.25"/>
<g opacity="0.75">
<line x1="302.78" y1="125.6" x2="302.78" y2="128.58" stroke="#a06a28" stroke-width="1.1" />
<line x1="300.38" y1="125.6" x2="305.18" y2="125.6" stroke="#a06a28" stroke-width="1.1" />
<line x1="300.38" y1="128.58" x2="305.18" y2="128.58" stroke="#a06a28" stroke-width="1.1" />
</g>
<rect x="300.78" y="126.2" width="4" height="4" fill="#a06a28" stroke="#a06a28" stroke-width="0.4" opacity="0.25"/>
<rect x="300.78" y="124.86" width="4" height="4" fill="#a06a28" stroke="#a06a28" stroke-width="0.4" opacity="0.25"/>
<rect x="300.78" y="124.04" width="4" height="4" fill="#a06a28" stroke="#a06a28" stroke-width="0.4" opacity="0.25"/>
<g opacity="0.75">
<line x1="343.02" y1="125.3" x2="343.02" y2="128.28" stroke="#a06a28" stroke-width="1.1" />
<line x1="340.62" y1="125.3" x2="345.42" y2="125.3" stroke="#a06a28" stroke-width="1.1" />
<line x1="340.62" y1="128.28" x2="345.42" y2="128.28" stroke="#a06a28" stroke-width="1.1" />
</g>
<rect x="341.02" y="125.91" width="4" height="4" fill="#a06a28" stroke="#a06a28" stroke-width="0.4" opacity="0.25"/>
<rect x="341.02" y="124.56" width="4" height="4" fill="#a06a28" stroke="#a06a28" stroke-width="0.4" opacity="0.25"/>
<rect x="341.02" y="123.74" width="4" height="4" fill="#a06a28" stroke="#a06a28" stroke-width="0.4" opacity="0.25"/>
<g opacity="0.75">
<line x1="383.26" y1="124.4" x2="383.26" y2="127.38" stroke="#a06a28" stroke-width="1.1" />
<line x1="380.86" y1="124.4" x2="385.66" y2="124.4" stroke="#a06a28" stroke-width="1.1" />
<line x1="380.86" y1="127.38" x2="385.66" y2="127.38" stroke="#a06a28" stroke-width="1.1" />
</g>
<rect x="381.26" y="125.01" width="4" height="4" fill="#a06a28" stroke="#a06a28" stroke-width="0.4" opacity="0.25"/>
<rect x="381.26" y="123.67" width="4" height="4" fill="#a06a28" stroke="#a06a28" stroke-width="0.4" opacity="0.25"/>
<rect x="381.26" y="122.85" width="4" height="4" fill="#a06a28" stroke="#a06a28" stroke-width="0.4" opacity="0.25"/>
<g opacity="0.75">
<line x1="423.5" y1="125.3" x2="423.5" y2="128.28" stroke="#a06a28" stroke-width="1.1" />
<line x1="421.1" y1="125.3" x2="425.89" y2="125.3" stroke="#a06a28" stroke-width="1.1" />
<line x1="421.1" y1="128.28" x2="425.89" y2="128.28" stroke="#a06a28" stroke-width="1.1" />
</g>
<rect x="421.5" y="125.91" width="4" height="4" fill="#a06a28" stroke="#a06a28" stroke-width="0.4" opacity="0.25"/>
<rect x="421.5" y="124.56" width="4" height="4" fill="#a06a28" stroke="#a06a28" stroke-width="0.4" opacity="0.25"/>
<rect x="421.5" y="123.74" width="4" height="4" fill="#a06a28" stroke="#a06a28" stroke-width="0.4" opacity="0.25"/>
<g opacity="0.75">
<line x1="262.54" y1="60.93" x2="262.54" y2="66.89" stroke="#555555" stroke-width="1.1" />
<line x1="260.14" y1="60.93" x2="264.94" y2="60.93" stroke="#555555" stroke-width="1.1" />
<line x1="260.14" y1="66.89" x2="264.94" y2="66.89" stroke="#555555" stroke-width="1.1" />
</g>
<circle cx="262.54" cy="66.15" r="2" fill="#555555" stroke="#555555" stroke-width="0.4" opacity="0.25"/>
<circle cx="262.54" cy="63.46" r="2" fill="#555555" stroke="#555555" stroke-width="0.4" opacity="0.25"/>
<circle cx="262.54" cy="61.82" r="2" fill="#555555" stroke="#555555" stroke-width="0.4" opacity="0.25"/>
<g opacity="0.75">
<line x1="302.78" y1="80.9" x2="302.78" y2="95.8" stroke="#555555" stroke-width="1.1" />
<line x1="300.38" y1="80.9" x2="305.18" y2="80.9" stroke="#555555" stroke-width="1.1" />
<line x1="300.38" y1="95.8" x2="305.18" y2="95.8" stroke="#555555" stroke-width="1.1" />
</g>
<circle cx="302.78" cy="93.93" r="2" fill="#555555" stroke="#555555" stroke-width="0.4" opacity="0.25"/>
<circle cx="302.78" cy="87.23" r="2" fill="#555555" stroke="#555555" stroke-width="0.4" opacity="0.25"/>
<circle cx="302.78" cy="83.13" r="2" fill="#555555" stroke="#555555" stroke-width="0.4" opacity="0.25"/>
<g opacity="0.75">
<line x1="343.02" y1="109.21" x2="343.02" y2="121.13" stroke="#555555" stroke-width="1.1" />
<line x1="340.62" y1="109.21" x2="345.42" y2="109.21" stroke="#555555" stroke-width="1.1" />
<line x1="340.62" y1="121.13" x2="345.42" y2="121.13" stroke="#555555" stroke-width="1.1" />
</g>
<circle cx="343.02" cy="119.64" r="2" fill="#555555" stroke="#555555" stroke-width="0.4" opacity="0.25"/>
<circle cx="343.02" cy="114.27" r="2" fill="#555555" stroke="#555555" stroke-width="0.4" opacity="0.25"/>
<circle cx="343.02" cy="110.99" r="2" fill="#555555" stroke="#555555" stroke-width="0.4" opacity="0.25"/>
<g opacity="0.75">
<line x1="383.26" y1="117.25" x2="383.26" y2="126.19" stroke="#555555" stroke-width="1.1" />
<line x1="380.86" y1="117.25" x2="385.66" y2="117.25" stroke="#555555" stroke-width="1.1" />
<line x1="380.86" y1="126.19" x2="385.66" y2="126.19" stroke="#555555" stroke-width="1.1" />
</g>
<circle cx="383.26" cy="125.07" r="2" fill="#555555" stroke="#555555" stroke-width="0.4" opacity="0.25"/>
<circle cx="383.26" cy="121.05" r="2" fill="#555555" stroke="#555555" stroke-width="0.4" opacity="0.25"/>
<circle cx="383.26" cy="118.59" r="2" fill="#555555" stroke="#555555" stroke-width="0.4" opacity="0.25"/>
<g opacity="0.75">
<line x1="423.5" y1="124.11" x2="423.5" y2="133.05" stroke="#555555" stroke-width="1.1" />
<line x1="421.1" y1="124.11" x2="425.89" y2="124.11" stroke="#555555" stroke-width="1.1" />
<line x1="421.1" y1="133.05" x2="425.89" y2="133.05" stroke="#555555" stroke-width="1.1" />
</g>
<circle cx="423.5" cy="131.93" r="2" fill="#555555" stroke="#555555" stroke-width="0.4" opacity="0.25"/>
<circle cx="423.5" cy="127.91" r="2" fill="#555555" stroke="#555555" stroke-width="0.4" opacity="0.25"/>
<circle cx="423.5" cy="125.45" r="2" fill="#555555" stroke="#555555" stroke-width="0.4" opacity="0.25"/>
<g opacity="0.75">
<line x1="262.54" y1="51.39" x2="262.54" y2="63.31" stroke="#ff8c1a" stroke-width="1.1" />
<line x1="260.14" y1="51.39" x2="264.94" y2="51.39" stroke="#ff8c1a" stroke-width="1.1" />
<line x1="260.14" y1="63.31" x2="264.94" y2="63.31" stroke="#ff8c1a" stroke-width="1.1" />
</g>
<polygon points="262.54,59.42 264.94,61.82 262.54,64.22 260.14,61.82" fill="#ff8c1a" stroke="#ff8c1a" stroke-width="0.4" opacity="0.25"/>
<polygon points="262.54,54.06 264.94,56.46 262.54,58.86 260.14,56.46" fill="#ff8c1a" stroke="#ff8c1a" stroke-width="0.4" opacity="0.25"/>
<polygon points="262.54,50.78 264.94,53.18 262.54,55.58 260.14,53.18" fill="#ff8c1a" stroke="#ff8c1a" stroke-width="0.4" opacity="0.25"/>
<g opacity="0.75">
<line x1="302.78" y1="69.57" x2="302.78" y2="96.39" stroke="#ff8c1a" stroke-width="1.1" />
<line x1="300.38" y1="69.57" x2="305.18" y2="69.57" stroke="#ff8c1a" stroke-width="1.1" />
<line x1="300.38" y1="96.39" x2="305.18" y2="96.39" stroke="#ff8c1a" stroke-width="1.1" />
</g>
<polygon points="302.78,90.64 305.18,93.04 302.78,95.44 300.38,93.04" fill="#ff8c1a" stroke="#ff8c1a" stroke-width="0.4" opacity="0.25"/>
<polygon points="302.78,78.57 305.18,80.97 302.78,83.37 300.38,80.97" fill="#ff8c1a" stroke="#ff8c1a" stroke-width="0.4" opacity="0.25"/>
<polygon points="302.78,71.19 305.18,73.59 302.78,75.99 300.38,73.59" fill="#ff8c1a" stroke="#ff8c1a" stroke-width="0.4" opacity="0.25"/>
<g opacity="0.75">
<line x1="343.02" y1="93.41" x2="343.02" y2="111.29" stroke="#ff8c1a" stroke-width="1.1" />
<line x1="340.62" y1="93.41" x2="345.42" y2="93.41" stroke="#ff8c1a" stroke-width="1.1" />
<line x1="340.62" y1="111.29" x2="345.42" y2="111.29" stroke="#ff8c1a" stroke-width="1.1" />
</g>
<polygon points="343.02,106.66 345.42,109.06 343.02,111.46 340.62,109.06" fill="#ff8c1a" stroke="#ff8c1a" stroke-width="0.4" opacity="0.25"/>
<polygon points="343.02,98.61 345.42,101.01 343.02,103.41 340.62,101.01" fill="#ff8c1a" stroke="#ff8c1a" stroke-width="0.4" opacity="0.25"/>
<polygon points="343.02,93.69 345.42,96.09 343.02,98.49 340.62,96.09" fill="#ff8c1a" stroke="#ff8c1a" stroke-width="0.4" opacity="0.25"/>
<g opacity="0.75">
<line x1="383.26" y1="54.08" x2="383.26" y2="143.48" stroke="#ff8c1a" stroke-width="1.1" />
<line x1="380.86" y1="54.08" x2="385.66" y2="54.08" stroke="#ff8c1a" stroke-width="1.1" />
<line x1="380.86" y1="143.48" x2="385.66" y2="143.48" stroke="#ff8c1a" stroke-width="1.1" />
</g>
<polygon points="383.26,129.9 385.66,132.3 383.26,134.7 380.86,132.3" fill="#ff8c1a" stroke="#ff8c1a" stroke-width="0.4" opacity="0.25"/>
<polygon points="383.26,89.67 385.66,92.07 383.26,94.47 380.86,92.07" fill="#ff8c1a" stroke="#ff8c1a" stroke-width="0.4" opacity="0.25"/>
<polygon points="383.26,65.09 385.66,67.49 383.26,69.89 380.86,67.49" fill="#ff8c1a" stroke="#ff8c1a" stroke-width="0.4" opacity="0.25"/>
<g opacity="0.75">
<line x1="423.5" y1="77.32" x2="423.5" y2="144.07" stroke="#ff8c1a" stroke-width="1.1" />
<line x1="421.1" y1="77.32" x2="425.89" y2="77.32" stroke="#ff8c1a" stroke-width="1.1" />
<line x1="421.1" y1="144.07" x2="425.89" y2="144.07" stroke="#ff8c1a" stroke-width="1.1" />
</g>
<polygon points="423.5,133.33 425.89,135.73 423.5,138.13 421.1,135.73" fill="#ff8c1a" stroke="#ff8c1a" stroke-width="0.4" opacity="0.25"/>
<polygon points="423.5,103.29 425.89,105.69 423.5,108.09 421.1,105.69" fill="#ff8c1a" stroke="#ff8c1a" stroke-width="0.4" opacity="0.25"/>
<polygon points="423.5,84.93 425.89,87.33 423.5,89.73 421.1,87.33" fill="#ff8c1a" stroke="#ff8c1a" stroke-width="0.4" opacity="0.25"/>
<g opacity="0.75">
<line x1="262.54" y1="47.52" x2="262.54" y2="59.44" stroke="#cc00ff" stroke-width="1.1" />
<line x1="260.14" y1="47.52" x2="264.94" y2="47.52" stroke="#cc00ff" stroke-width="1.1" />
<line x1="260.14" y1="59.44" x2="264.94" y2="59.44" stroke="#cc00ff" stroke-width="1.1" />
</g>
<polygon points="262.54,60.25 264.74,56.45 260.34,56.45" fill="#cc00ff" stroke="#cc00ff" stroke-width="0.4" opacity="0.25"/>
<polygon points="262.54,54.89 264.74,51.09 260.34,51.09" fill="#cc00ff" stroke="#cc00ff" stroke-width="0.4" opacity="0.25"/>
<polygon points="262.54,51.61 264.74,47.81 260.34,47.81" fill="#cc00ff" stroke="#cc00ff" stroke-width="0.4" opacity="0.25"/>
<g opacity="0.75">
<line x1="302.78" y1="68.08" x2="302.78" y2="85.96" stroke="#cc00ff" stroke-width="1.1" />
<line x1="300.38" y1="68.08" x2="305.18" y2="68.08" stroke="#cc00ff" stroke-width="1.1" />
<line x1="300.38" y1="85.96" x2="305.18" y2="85.96" stroke="#cc00ff" stroke-width="1.1" />
</g>
<polygon points="302.78,86.03 304.98,82.23 300.58,82.23" fill="#cc00ff" stroke="#cc00ff" stroke-width="0.4" opacity="0.25"/>
<polygon points="302.78,77.98 304.98,74.18 300.58,74.18" fill="#cc00ff" stroke="#cc00ff" stroke-width="0.4" opacity="0.25"/>
<polygon points="302.78,73.06 304.98,69.26 300.58,69.26" fill="#cc00ff" stroke="#cc00ff" stroke-width="0.4" opacity="0.25"/>
<g opacity="0.75">
<line x1="343.02" y1="78.51" x2="343.02" y2="114.27" stroke="#cc00ff" stroke-width="1.1" />
<line x1="340.62" y1="78.51" x2="345.42" y2="78.51" stroke="#cc00ff" stroke-width="1.1" />
<line x1="340.62" y1="114.27" x2="345.42" y2="114.27" stroke="#cc00ff" stroke-width="1.1" />
</g>
<polygon points="343.02,112.1 345.22,108.3 340.82,108.3" fill="#cc00ff" stroke="#cc00ff" stroke-width="0.4" opacity="0.25"/>
<polygon points="343.02,96.01 345.22,92.21 340.82,92.21" fill="#cc00ff" stroke="#cc00ff" stroke-width="0.4" opacity="0.25"/>
<polygon points="343.02,86.18 345.22,82.38 340.82,82.38" fill="#cc00ff" stroke="#cc00ff" stroke-width="0.4" opacity="0.25"/>
<g opacity="0.75">
<line x1="383.26" y1="74.04" x2="383.26" y2="121.72" stroke="#cc00ff" stroke-width="1.1" />
<line x1="380.86" y1="74.04" x2="385.66" y2="74.04" stroke="#cc00ff" stroke-width="1.1" />
<line x1="380.86" y1="121.72" x2="385.66" y2="121.72" stroke="#cc00ff" stroke-width="1.1" />
</g>
<polygon points="383.26,118.06 385.46,114.26 381.06,114.26" fill="#cc00ff" stroke="#cc00ff" stroke-width="0.4" opacity="0.25"/>
<polygon points="383.26,96.61 385.46,92.81 381.06,92.81" fill="#cc00ff" stroke="#cc00ff" stroke-width="0.4" opacity="0.25"/>
<polygon points="383.26,83.49 385.46,79.69 381.06,79.69" fill="#cc00ff" stroke="#cc00ff" stroke-width="0.4" opacity="0.25"/>
<g opacity="0.75">
<line x1="423.5" y1="78.51" x2="423.5" y2="132.15" stroke="#cc00ff" stroke-width="1.1" />
<line x1="421.1" y1="78.51" x2="425.89" y2="78.51" stroke="#cc00ff" stroke-width="1.1" />
<line x1="421.1" y1="132.15" x2="425.89" y2="132.15" stroke="#cc00ff" stroke-width="1.1" />
</g>
<polygon points="423.5,127.75 425.69,123.95 421.3,123.95" fill="#cc00ff" stroke="#cc00ff" stroke-width="0.4" opacity="0.25"/>
<polygon points="423.5,103.61 425.69,99.81 421.3,99.81" fill="#cc00ff" stroke="#cc00ff" stroke-width="0.4" opacity="0.25"/>
<polygon points="423.5,88.86 425.69,85.06 421.3,85.06" fill="#cc00ff" stroke="#cc00ff" stroke-width="0.4" opacity="0.25"/>
<g opacity="0.75">
<line x1="262.54" y1="43.65" x2="262.54" y2="52.59" stroke="#66ffff" stroke-width="1.1" />
<line x1="260.14" y1="43.65" x2="264.94" y2="43.65" stroke="#66ffff" stroke-width="1.1" />
<line x1="260.14" y1="52.59" x2="264.94" y2="52.59" stroke="#66ffff" stroke-width="1.1" />
</g>
<polygon points="262.54,49.17 264.74,52.97 260.34,52.97" fill="#66ffff" stroke="#66ffff" stroke-width="0.4" opacity="0.25"/>
<polygon points="262.54,45.15 264.74,48.95 260.34,48.95" fill="#66ffff" stroke="#66ffff" stroke-width="0.4" opacity="0.25"/>
<polygon points="262.54,42.69 264.74,46.49 260.34,46.49" fill="#66ffff" stroke="#66ffff" stroke-width="0.4" opacity="0.25"/>
<g opacity="0.75">
<line x1="302.78" y1="53.48" x2="302.78" y2="71.36" stroke="#66ffff" stroke-width="1.1" />
<line x1="300.38" y1="53.48" x2="305.18" y2="53.48" stroke="#66ffff" stroke-width="1.1" />
<line x1="300.38" y1="71.36" x2="305.18" y2="71.36" stroke="#66ffff" stroke-width="1.1" />
</g>
<polygon points="302.78,66.83 304.98,70.62 300.58,70.62" fill="#66ffff" stroke="#66ffff" stroke-width="0.4" opacity="0.25"/>
<polygon points="302.78,58.78 304.98,62.58 300.58,62.58" fill="#66ffff" stroke="#66ffff" stroke-width="0.4" opacity="0.25"/>
<polygon points="302.78,53.86 304.98,57.66 300.58,57.66" fill="#66ffff" stroke="#66ffff" stroke-width="0.4" opacity="0.25"/>
<g opacity="0.75">
<line x1="343.02" y1="71.96" x2="343.02" y2="92.82" stroke="#66ffff" stroke-width="1.1" />
<line x1="340.62" y1="71.96" x2="345.42" y2="71.96" stroke="#66ffff" stroke-width="1.1" />
<line x1="340.62" y1="92.82" x2="345.42" y2="92.82" stroke="#66ffff" stroke-width="1.1" />
</g>
<polygon points="343.02,87.91 345.22,91.71 340.82,91.71" fill="#66ffff" stroke="#66ffff" stroke-width="0.4" opacity="0.25"/>
<polygon points="343.02,78.52 345.22,82.32 340.82,82.32" fill="#66ffff" stroke="#66ffff" stroke-width="0.4" opacity="0.25"/>
<polygon points="343.02,72.79 345.22,76.59 340.82,76.59" fill="#66ffff" stroke="#66ffff" stroke-width="0.4" opacity="0.25"/>
<g opacity="0.75">
<line x1="383.26" y1="60.33" x2="383.26" y2="87.15" stroke="#66ffff" stroke-width="1.1" />
<line x1="380.86" y1="60.33" x2="385.66" y2="60.33" stroke="#66ffff" stroke-width="1.1" />
<line x1="380.86" y1="87.15" x2="385.66" y2="87.15" stroke="#66ffff" stroke-width="1.1" />
</g>
<polygon points="383.26,81.5 385.46,85.3 381.06,85.3" fill="#66ffff" stroke="#66ffff" stroke-width="0.4" opacity="0.25"/>
<polygon points="383.26,69.43 385.46,73.23 381.06,73.23" fill="#66ffff" stroke="#66ffff" stroke-width="0.4" opacity="0.25"/>
<polygon points="383.26,62.06 385.46,65.86 381.06,65.86" fill="#66ffff" stroke="#66ffff" stroke-width="0.4" opacity="0.25"/>
<g opacity="0.75">
<line x1="423.5" y1="79.11" x2="423.5" y2="113.68" stroke="#66ffff" stroke-width="1.1" />
<line x1="421.1" y1="79.11" x2="425.89" y2="79.11" stroke="#66ffff" stroke-width="1.1" />
<line x1="421.1" y1="113.68" x2="425.89" y2="113.68" stroke="#66ffff" stroke-width="1.1" />
</g>
<polygon points="423.5,107.06 425.69,110.86 421.3,110.86" fill="#66ffff" stroke="#66ffff" stroke-width="0.4" opacity="0.25"/>
<polygon points="423.5,91.5 425.69,95.3 421.3,95.3" fill="#66ffff" stroke="#66ffff" stroke-width="0.4" opacity="0.25"/>
<polygon points="423.5,81.99 425.69,85.79 421.3,85.79" fill="#66ffff" stroke="#66ffff" stroke-width="0.4" opacity="0.25"/>
<g opacity="0.75">
<line x1="262.54" y1="43.94" x2="262.54" y2="63.02" stroke="#ff0000" stroke-width="1.1" />
<line x1="260.14" y1="43.94" x2="264.94" y2="43.94" stroke="#ff0000" stroke-width="1.1" />
<line x1="260.14" y1="63.02" x2="264.94" y2="63.02" stroke="#ff0000" stroke-width="1.1" />
</g>
<rect x="260.54" y="58.63" width="4" height="4" fill="#ff0000" stroke="#ff0000" stroke-width="0.4" opacity="0.25"/>
<rect x="260.54" y="50.05" width="4" height="4" fill="#ff0000" stroke="#ff0000" stroke-width="0.4" opacity="0.25"/>
<rect x="260.54" y="44.8" width="4" height="4" fill="#ff0000" stroke="#ff0000" stroke-width="0.4" opacity="0.25"/>
<g opacity="0.75">
<line x1="302.78" y1="36.49" x2="302.78" y2="66.29" stroke="#ff0000" stroke-width="1.1" />
<line x1="300.38" y1="36.49" x2="305.18" y2="36.49" stroke="#ff0000" stroke-width="1.1" />
<line x1="300.38" y1="66.29" x2="305.18" y2="66.29" stroke="#ff0000" stroke-width="1.1" />
</g>
<rect x="300.78" y="60.57" width="4" height="4" fill="#ff0000" stroke="#ff0000" stroke-width="0.4" opacity="0.25"/>
<rect x="300.78" y="47.16" width="4" height="4" fill="#ff0000" stroke="#ff0000" stroke-width="0.4" opacity="0.25"/>
<rect x="300.78" y="38.96" width="4" height="4" fill="#ff0000" stroke="#ff0000" stroke-width="0.4" opacity="0.25"/>
<g opacity="0.75">
<line x1="343.02" y1="40.67" x2="343.02" y2="85.96" stroke="#ff0000" stroke-width="1.1" />
<line x1="340.62" y1="40.67" x2="345.42" y2="40.67" stroke="#ff0000" stroke-width="1.1" />
<line x1="340.62" y1="85.96" x2="345.42" y2="85.96" stroke="#ff0000" stroke-width="1.1" />
</g>
<rect x="341.02" y="78.3" width="4" height="4" fill="#ff0000" stroke="#ff0000" stroke-width="0.4" opacity="0.25"/>
<rect x="341.02" y="57.92" width="4" height="4" fill="#ff0000" stroke="#ff0000" stroke-width="0.4" opacity="0.25"/>
<rect x="341.02" y="45.46" width="4" height="4" fill="#ff0000" stroke="#ff0000" stroke-width="0.4" opacity="0.25"/>
<g opacity="0.75">
<line x1="383.26" y1="37.69" x2="383.26" y2="90.13" stroke="#ff0000" stroke-width="1.1" />
<line x1="380.86" y1="37.69" x2="385.66" y2="37.69" stroke="#ff0000" stroke-width="1.1" />
<line x1="380.86" y1="90.13" x2="385.66" y2="90.13" stroke="#ff0000" stroke-width="1.1" />
</g>
<rect x="381.26" y="81.58" width="4" height="4" fill="#ff0000" stroke="#ff0000" stroke-width="0.4" opacity="0.25"/>
<rect x="381.26" y="57.98" width="4" height="4" fill="#ff0000" stroke="#ff0000" stroke-width="0.4" opacity="0.25"/>
<rect x="381.26" y="43.55" width="4" height="4" fill="#ff0000" stroke="#ff0000" stroke-width="0.4" opacity="0.25"/>
<g opacity="0.75">
<line x1="423.5" y1="40.07" x2="423.5" y2="72.85" stroke="#ff0000" stroke-width="1.1" />
<line x1="421.1" y1="40.07" x2="425.89" y2="40.07" stroke="#ff0000" stroke-width="1.1" />
<line x1="421.1" y1="72.85" x2="425.89" y2="72.85" stroke="#ff0000" stroke-width="1.1" />
</g>
<rect x="421.5" y="66.75" width="4" height="4" fill="#ff0000" stroke="#ff0000" stroke-width="0.4" opacity="0.25"/>
<rect x="421.5" y="52" width="4" height="4" fill="#ff0000" stroke="#ff0000" stroke-width="0.4" opacity="0.25"/>
<rect x="421.5" y="42.99" width="4" height="4" fill="#ff0000" stroke="#ff0000" stroke-width="0.4" opacity="0.25"/>
<g opacity="0.75">
<line x1="262.54" y1="51.69" x2="262.54" y2="60.63" stroke="#0000ff" stroke-width="1.1" />
<line x1="260.14" y1="51.69" x2="264.94" y2="51.69" stroke="#0000ff" stroke-width="1.1" />
<line x1="260.14" y1="60.63" x2="264.94" y2="60.63" stroke="#0000ff" stroke-width="1.1" />
</g>
<circle cx="262.54" cy="59.51" r="2" fill="#0000ff" stroke="#0000ff" stroke-width="0.4" opacity="0.25"/>
<circle cx="262.54" cy="55.49" r="2" fill="#0000ff" stroke="#0000ff" stroke-width="0.4" opacity="0.25"/>
<circle cx="262.54" cy="53.03" r="2" fill="#0000ff" stroke="#0000ff" stroke-width="0.4" opacity="0.25"/>
<g opacity="0.75">
<line x1="302.78" y1="37.09" x2="302.78" y2="62.12" stroke="#0000ff" stroke-width="1.1" />
<line x1="300.38" y1="37.09" x2="305.18" y2="37.09" stroke="#0000ff" stroke-width="1.1" />
<line x1="300.38" y1="62.12" x2="305.18" y2="62.12" stroke="#0000ff" stroke-width="1.1" />
</g>
<circle cx="302.78" cy="58.99" r="2" fill="#0000ff" stroke="#0000ff" stroke-width="0.4" opacity="0.25"/>
<circle cx="302.78" cy="47.73" r="2" fill="#0000ff" stroke="#0000ff" stroke-width="0.4" opacity="0.25"/>
<circle cx="302.78" cy="40.84" r="2" fill="#0000ff" stroke="#0000ff" stroke-width="0.4" opacity="0.25"/>
<g opacity="0.75">
<line x1="343.02" y1="34.41" x2="343.02" y2="73.74" stroke="#0000ff" stroke-width="1.1" />
<line x1="340.62" y1="34.41" x2="345.42" y2="34.41" stroke="#0000ff" stroke-width="1.1" />
<line x1="340.62" y1="73.74" x2="345.42" y2="73.74" stroke="#0000ff" stroke-width="1.1" />
</g>
<circle cx="343.02" cy="68.83" r="2" fill="#0000ff" stroke="#0000ff" stroke-width="0.4" opacity="0.25"/>
<circle cx="343.02" cy="51.13" r="2" fill="#0000ff" stroke="#0000ff" stroke-width="0.4" opacity="0.25"/>
<circle cx="343.02" cy="40.31" r="2" fill="#0000ff" stroke="#0000ff" stroke-width="0.4" opacity="0.25"/>
<g opacity="0.75">
<line x1="383.26" y1="35.3" x2="383.26" y2="78.21" stroke="#0000ff" stroke-width="1.1" />
<line x1="380.86" y1="35.3" x2="385.66" y2="35.3" stroke="#0000ff" stroke-width="1.1" />
<line x1="380.86" y1="78.21" x2="385.66" y2="78.21" stroke="#0000ff" stroke-width="1.1" />
</g>
<circle cx="383.26" cy="72.85" r="2" fill="#0000ff" stroke="#0000ff" stroke-width="0.4" opacity="0.25"/>
<circle cx="383.26" cy="53.54" r="2" fill="#0000ff" stroke="#0000ff" stroke-width="0.4" opacity="0.25"/>
<circle cx="383.26" cy="41.74" r="2" fill="#0000ff" stroke="#0000ff" stroke-width="0.4" opacity="0.25"/>
<g opacity="0.75">
<line x1="423.5" y1="29.64" x2="423.5" y2="83.28" stroke="#0000ff" stroke-width="1.1" />
<line x1="421.1" y1="29.64" x2="425.89" y2="29.64" stroke="#0000ff" stroke-width="1.1" />
<line x1="421.1" y1="83.28" x2="425.89" y2="83.28" stroke="#0000ff" stroke-width="1.1" />
</g>
<circle cx="423.5" cy="76.58" r="2" fill="#0000ff" stroke="#0000ff" stroke-width="0.4" opacity="0.25"/>
<circle cx="423.5" cy="52.44" r="2" fill="#0000ff" stroke="#0000ff" stroke-width="0.4" opacity="0.25"/>
<circle cx="423.5" cy="37.69" r="2" fill="#0000ff" stroke="#0000ff" stroke-width="0.4" opacity="0.25"/>
<polyline points="222.3,72.25 262.54,129.17 302.78,127.09 343.02,126.79 383.26,125.89 423.5,126.79" fill="none" stroke="#a06a28" stroke-width="0.9"/>
<polyline points="222.3,72.25 262.54,63.91 302.78,88.35 343.02,115.17 383.26,121.72 423.5,128.58" fill="none" stroke="#555555" stroke-width="0.9"/>
<polyline points="222.3,72.25 262.54,57.35 302.78,82.98 343.02,102.35 383.26,98.78 423.5,110.7" fill="none" stroke="#ff8c1a" stroke-width="0.9"/>
<polyline points="222.3,72.25 262.54,53.48 302.78,77.02 343.02,96.39 383.26,97.88 423.5,105.33" fill="none" stroke="#cc00ff" stroke-width="0.9"/>
<polyline points="222.3,72.25 262.54,48.12 302.78,62.42 343.02,82.39 383.26,73.74 423.5,96.39" fill="none" stroke="#66ffff" stroke-width="0.9"/>
<polyline points="222.3,72.25 262.54,53.48 302.78,51.39 343.02,63.31 383.26,63.91 423.5,56.46" fill="none" stroke="#ff0000" stroke-width="0.9"/>
<polyline points="222.3,72.25 262.54,56.16 302.78,49.61 343.02,54.08 383.26,56.76 423.5,56.46" fill="none" stroke="#0000ff" stroke-width="0.9"/>
<rect x="260.74" y="127.37" width="3.6" height="3.6" fill="#a06a28" stroke="#a06a28" stroke-width="0.4"/>
<rect x="300.98" y="125.29" width="3.6" height="3.6" fill="#a06a28" stroke="#a06a28" stroke-width="0.4"/>
<rect x="341.22" y="124.99" width="3.6" height="3.6" fill="#a06a28" stroke="#a06a28" stroke-width="0.4"/>
<rect x="381.46" y="124.09" width="3.6" height="3.6" fill="#a06a28" stroke="#a06a28" stroke-width="0.4"/>
<rect x="421.69" y="124.99" width="3.6" height="3.6" fill="#a06a28" stroke="#a06a28" stroke-width="0.4"/>
<circle cx="262.54" cy="63.91" r="1.8" fill="#555555" stroke="#555555" stroke-width="0.4"/>
<circle cx="302.78" cy="88.35" r="1.8" fill="#555555" stroke="#555555" stroke-width="0.4"/>
<circle cx="343.02" cy="115.17" r="1.8" fill="#555555" stroke="#555555" stroke-width="0.4"/>
<circle cx="383.26" cy="121.72" r="1.8" fill="#555555" stroke="#555555" stroke-width="0.4"/>
<circle cx="423.5" cy="128.58" r="1.8" fill="#555555" stroke="#555555" stroke-width="0.4"/>
<polygon points="262.54,55.19 264.7,57.35 262.54,59.51 260.38,57.35" fill="#ff8c1a" stroke="#ff8c1a" stroke-width="0.4"/>
<polygon points="302.78,80.82 304.94,82.98 302.78,85.14 300.62,82.98" fill="#ff8c1a" stroke="#ff8c1a" stroke-width="0.4"/>
<polygon points="343.02,100.19 345.18,102.35 343.02,104.51 340.86,102.35" fill="#ff8c1a" stroke="#ff8c1a" stroke-width="0.4"/>
<polygon points="383.26,96.62 385.42,98.78 383.26,100.94 381.1,98.78" fill="#ff8c1a" stroke="#ff8c1a" stroke-width="0.4"/>
<polygon points="423.5,108.54 425.66,110.7 423.5,112.86 421.33,110.7" fill="#ff8c1a" stroke="#ff8c1a" stroke-width="0.4"/>
<polygon points="262.54,55.55 264.52,52.13 260.56,52.13" fill="#cc00ff" stroke="#cc00ff" stroke-width="0.4"/>
<polygon points="302.78,79.09 304.76,75.67 300.8,75.67" fill="#cc00ff" stroke="#cc00ff" stroke-width="0.4"/>
<polygon points="343.02,98.46 345,95.04 341.04,95.04" fill="#cc00ff" stroke="#cc00ff" stroke-width="0.4"/>
<polygon points="383.26,99.95 385.24,96.53 381.28,96.53" fill="#cc00ff" stroke="#cc00ff" stroke-width="0.4"/>
<polygon points="423.5,107.4 425.48,103.98 421.51,103.98" fill="#cc00ff" stroke="#cc00ff" stroke-width="0.4"/>
<polygon points="262.54,46.05 264.52,49.47 260.56,49.47" fill="#66ffff" stroke="#66ffff" stroke-width="0.4"/>
<polygon points="302.78,60.35 304.76,63.77 300.8,63.77" fill="#66ffff" stroke="#66ffff" stroke-width="0.4"/>
<polygon points="343.02,80.32 345,83.74 341.04,83.74" fill="#66ffff" stroke="#66ffff" stroke-width="0.4"/>
<polygon points="383.26,71.67 385.24,75.09 381.28,75.09" fill="#66ffff" stroke="#66ffff" stroke-width="0.4"/>
<polygon points="423.5,94.32 425.48,97.74 421.51,97.74" fill="#66ffff" stroke="#66ffff" stroke-width="0.4"/>
<rect x="260.74" y="51.68" width="3.6" height="3.6" fill="#ff0000" stroke="#ff0000" stroke-width="0.4"/>
<rect x="300.98" y="49.59" width="3.6" height="3.6" fill="#ff0000" stroke="#ff0000" stroke-width="0.4"/>
<rect x="341.22" y="61.51" width="3.6" height="3.6" fill="#ff0000" stroke="#ff0000" stroke-width="0.4"/>
<rect x="381.46" y="62.11" width="3.6" height="3.6" fill="#ff0000" stroke="#ff0000" stroke-width="0.4"/>
<rect x="421.69" y="54.66" width="3.6" height="3.6" fill="#ff0000" stroke="#ff0000" stroke-width="0.4"/>
<circle cx="262.54" cy="56.16" r="1.8" fill="#0000ff" stroke="#0000ff" stroke-width="0.4"/>
<circle cx="302.78" cy="49.61" r="1.8" fill="#0000ff" stroke="#0000ff" stroke-width="0.4"/>
<circle cx="343.02" cy="54.08" r="1.8" fill="#0000ff" stroke="#0000ff" stroke-width="0.4"/>
<circle cx="383.26" cy="56.76" r="1.8" fill="#0000ff" stroke="#0000ff" stroke-width="0.4"/>
<circle cx="423.5" cy="56.46" r="1.8" fill="#0000ff" stroke="#0000ff" stroke-width="0.4"/>
<ellipse cx="222" cy="72.3" rx="2.3" ry="4.3" fill="#6a34cc" stroke="#8a3ad8" stroke-width="0.5"/>
<line x1="222.3" y1="155" x2="222.3" y2="159.3" stroke="#000" stroke-width="1.6" />
<text x="222.3" y="171.2" font-family='"Liberation Serif", serif' font-size="10.5" font-weight="bold" fill="#000" text-anchor="middle" stroke="#000" stroke-width="0.2" >0</text>
<line x1="262.54" y1="155" x2="262.54" y2="159.3" stroke="#000" stroke-width="1.6" />
<text x="262.54" y="171.2" font-family='"Liberation Serif", serif' font-size="10.5" font-weight="bold" fill="#000" text-anchor="middle" stroke="#000" stroke-width="0.2" >3</text>
<line x1="302.78" y1="155" x2="302.78" y2="159.3" stroke="#000" stroke-width="1.6" />
<text x="302.78" y="171.2" font-family='"Liberation Serif", serif' font-size="10.5" font-weight="bold" fill="#000" text-anchor="middle" stroke="#000" stroke-width="0.2" >6</text>
<line x1="343.02" y1="155" x2="343.02" y2="159.3" stroke="#000" stroke-width="1.6" />
<text x="343.02" y="171.2" font-family='"Liberation Serif", serif' font-size="10.5" font-weight="bold" fill="#000" text-anchor="middle" stroke="#000" stroke-width="0.2" >9</text>
<line x1="383.26" y1="155" x2="383.26" y2="159.3" stroke="#000" stroke-width="1.6" />
<text x="383.26" y="171.2" font-family='"Liberation Serif", serif' font-size="10.5" font-weight="bold" fill="#000" text-anchor="middle" stroke="#000" stroke-width="0.2" >12</text>
<line x1="423.5" y1="155" x2="423.5" y2="159.3" stroke="#000" stroke-width="1.6" />
<text x="423.5" y="171.2" font-family='"Liberation Serif", serif' font-size="10.5" font-weight="bold" fill="#000" text-anchor="middle" stroke="#000" stroke-width="0.2" >15</text>
<text x="323.2" y="183.8" font-family='"Liberation Serif", serif' font-size="10.3" font-weight="bold" fill="#000" text-anchor="middle" stroke="#000" stroke-width="0.2" >Time (days)</text>
<text transform="translate(205.2,88.1) rotate(-90)" font-family='"Liberation Serif", serif' font-size="10.45" font-weight="bold" stroke="#000" stroke-width="0.2" text-anchor="middle">Log<tspan font-size="7.5" dy="2.5">10</tspan><tspan dy="-2.5"> RLU mL</tspan><tspan font-size="7.5" dy="-4">-1</tspan></text>
<line x1="448.8" y1="40" x2="462.9" y2="40" stroke="#0000ff" stroke-width="1.3" opacity="0.5"/>
<circle cx="455.8" cy="40" r="2" fill="#0000ff" stroke="#0000ff" stroke-width="0.4"/>
<text x="471.5" y="43.2" font-family='"Liberation Serif", serif' font-size="9" font-weight="bold" fill="#000" text-anchor="start" stroke="#000" stroke-width="0.2" >DMSO</text>
<line x1="448.8" y1="55.75" x2="462.9" y2="55.75" stroke="#ff0000" stroke-width="1.3" opacity="0.5"/>
<rect x="453.8" y="53.75" width="4" height="4" fill="#ff0000" stroke="#ff0000" stroke-width="0.4"/>
<text x="471.5" y="58.95" font-family='"Liberation Serif", serif' font-size="9" font-weight="bold" fill="#000" text-anchor="start" stroke="#000" stroke-width="0.2" >ILE 0.01</text>
<line x1="448.8" y1="71.5" x2="462.9" y2="71.5" stroke="#66ffff" stroke-width="1.3" opacity="0.5"/>
<polygon points="455.8,69.2 458,73 453.6,73" fill="#66ffff" stroke="#66ffff" stroke-width="0.4"/>
<text x="471.5" y="74.7" font-family='"Liberation Serif", serif' font-size="9" font-weight="bold" fill="#000" text-anchor="start" stroke="#000" stroke-width="0.2" >ILE 0.05</text>
<line x1="448.8" y1="87.25" x2="462.9" y2="87.25" stroke="#cc00ff" stroke-width="1.3" opacity="0.5"/>
<polygon points="455.8,89.55 458,85.75 453.6,85.75" fill="#cc00ff" stroke="#cc00ff" stroke-width="0.4"/>
<text x="471.5" y="90.45" font-family='"Liberation Serif", serif' font-size="9" font-weight="bold" fill="#000" text-anchor="start" stroke="#000" stroke-width="0.2" >ILE 0.1</text>
<line x1="448.8" y1="103" x2="462.9" y2="103" stroke="#ff8c1a" stroke-width="1.3" opacity="0.5"/>
<polygon points="455.8,100.6 458.2,103 455.8,105.4 453.4,103" fill="#ff8c1a" stroke="#ff8c1a" stroke-width="0.4"/>
<text x="471.5" y="106.2" font-family='"Liberation Serif", serif' font-size="9" font-weight="bold" fill="#000" text-anchor="start" stroke="#000" stroke-width="0.2" >ILE 0.25</text>
<line x1="448.8" y1="118.75" x2="462.9" y2="118.75" stroke="#555555" stroke-width="1.3" opacity="0.5"/>
<circle cx="455.8" cy="118.75" r="2" fill="#555555" stroke="#555555" stroke-width="0.4"/>
<text x="471.5" y="121.95" font-family='"Liberation Serif", serif' font-size="9" font-weight="bold" fill="#000" text-anchor="start" stroke="#000" stroke-width="0.2" >ILE 0.5</text>
<line x1="448.8" y1="134.5" x2="462.9" y2="134.5" stroke="#a06a28" stroke-width="1.3" opacity="0.5"/>
<rect x="453.8" y="132.5" width="4" height="4" fill="#a06a28" stroke="#a06a28" stroke-width="0.4"/>
<text x="471.5" y="137.7" font-family='"Liberation Serif", serif' font-size="9" font-weight="bold" fill="#000" text-anchor="start" stroke="#000" stroke-width="0.2" >RIF 1</text>
<line x1="222.3" y1="242.4" x2="222.3" y2="378.5" stroke="#000" stroke-width="1.9" />
<line x1="216.5" y1="243.2" x2="222.3" y2="243.2" stroke="#000" stroke-width="1.6" />
<text x="214.5" y="246.8" font-family='"Liberation Serif", serif' font-size="10.5" font-weight="bold" fill="#000" text-anchor="end" stroke="#000" stroke-width="0.2" >7</text>
<line x1="216.5" y1="270.06" x2="222.3" y2="270.06" stroke="#000" stroke-width="1.6" />
<text x="214.5" y="273.66" font-family='"Liberation Serif", serif' font-size="10.5" font-weight="bold" fill="#000" text-anchor="end" stroke="#000" stroke-width="0.2" >6</text>
<line x1="216.5" y1="296.92" x2="222.3" y2="296.92" stroke="#000" stroke-width="1.6" />
<text x="214.5" y="300.52" font-family='"Liberation Serif", serif' font-size="10.5" font-weight="bold" fill="#000" text-anchor="end" stroke="#000" stroke-width="0.2" >5</text>
<line x1="216.5" y1="323.78" x2="222.3" y2="323.78" stroke="#000" stroke-width="1.6" />
<text x="214.5" y="327.38" font-family='"Liberation Serif", serif' font-size="10.5" font-weight="bold" fill="#000" text-anchor="end" stroke="#000" stroke-width="0.2" >4</text>
<line x1="216.5" y1="350.64" x2="222.3" y2="350.64" stroke="#000" stroke-width="1.6" />
<text x="214.5" y="354.24" font-family='"Liberation Serif", serif' font-size="10.5" font-weight="bold" fill="#000" text-anchor="end" stroke="#000" stroke-width="0.2" >3</text>
<line x1="216.5" y1="377.5" x2="222.3" y2="377.5" stroke="#000" stroke-width="1.6" />
<text x="214.5" y="381.1" font-family='"Liberation Serif", serif' font-size="10.5" font-weight="bold" fill="#000" text-anchor="end" stroke="#000" stroke-width="0.2" >2</text>
<line x1="221.3" y1="377.5" x2="424.9" y2="377.5" stroke="#000" stroke-width="1.9" />
<g opacity="0.7">
<line x1="262.62" y1="354.67" x2="262.62" y2="362.73" stroke="#9c7440" stroke-width="0.9" />
<line x1="260.32" y1="354.67" x2="264.92" y2="354.67" stroke="#9c7440" stroke-width="0.9" />
<line x1="260.32" y1="362.73" x2="264.92" y2="362.73" stroke="#9c7440" stroke-width="0.9" />
</g>
<path d="M261,362.73H264.24M262.62,361.11V364.35" stroke="#9c7440" stroke-width="0.9" opacity="0.18"/>
<path d="M261,354.67H264.24M262.62,353.05V356.29" stroke="#9c7440" stroke-width="0.9" opacity="0.18"/>
<g opacity="0.7">
<line x1="302.94" y1="340.43" x2="302.94" y2="369.98" stroke="#9c7440" stroke-width="0.9" />
<line x1="300.64" y1="340.43" x2="305.24" y2="340.43" stroke="#9c7440" stroke-width="0.9" />
<line x1="300.64" y1="369.98" x2="305.24" y2="369.98" stroke="#9c7440" stroke-width="0.9" />
</g>
<path d="M301.32,369.98H304.56M302.94,368.36V371.6" stroke="#9c7440" stroke-width="0.9" opacity="0.18"/>
<path d="M301.32,340.43H304.56M302.94,338.81V342.05" stroke="#9c7440" stroke-width="0.9" opacity="0.18"/>
<g opacity="0.7">
<line x1="343.26" y1="347.15" x2="343.26" y2="363.26" stroke="#9c7440" stroke-width="0.9" />
<line x1="340.96" y1="347.15" x2="345.56" y2="347.15" stroke="#9c7440" stroke-width="0.9" />
<line x1="340.96" y1="363.26" x2="345.56" y2="363.26" stroke="#9c7440" stroke-width="0.9" />
</g>
<path d="M341.64,363.26H344.88M343.26,361.64V364.88" stroke="#9c7440" stroke-width="0.9" opacity="0.18"/>
<path d="M341.64,347.15H344.88M343.26,345.53V348.77" stroke="#9c7440" stroke-width="0.9" opacity="0.18"/>
<g opacity="0.7">
<line x1="383.58" y1="351.98" x2="383.58" y2="365.41" stroke="#9c7440" stroke-width="0.9" />
<line x1="381.28" y1="351.98" x2="385.88" y2="351.98" stroke="#9c7440" stroke-width="0.9" />
<line x1="381.28" y1="365.41" x2="385.88" y2="365.41" stroke="#9c7440" stroke-width="0.9" />
</g>
<path d="M381.96,365.41H385.2M383.58,363.79V367.03" stroke="#9c7440" stroke-width="0.9" opacity="0.18"/>
<path d="M381.96,351.98H385.2M383.58,350.36V353.6" stroke="#9c7440" stroke-width="0.9" opacity="0.18"/>
<g opacity="0.7">
<line x1="423.9" y1="360.58" x2="423.9" y2="365.95" stroke="#9c7440" stroke-width="0.9" />
<line x1="421.6" y1="360.58" x2="426.2" y2="360.58" stroke="#9c7440" stroke-width="0.9" />
<line x1="421.6" y1="365.95" x2="426.2" y2="365.95" stroke="#9c7440" stroke-width="0.9" />
</g>
<path d="M422.28,365.95H425.52M423.9,364.33V367.57" stroke="#9c7440" stroke-width="0.9" opacity="0.18"/>
<path d="M422.28,360.58H425.52M423.9,358.96V362.2" stroke="#9c7440" stroke-width="0.9" opacity="0.18"/>
<g opacity="0.7">
<line x1="262.62" y1="289.4" x2="262.62" y2="293.7" stroke="#000000" stroke-width="0.9" />
<line x1="260.32" y1="289.4" x2="264.92" y2="289.4" stroke="#000000" stroke-width="0.9" />
<line x1="260.32" y1="293.7" x2="264.92" y2="293.7" stroke="#000000" stroke-width="0.9" />
</g>
<circle cx="262.62" cy="293.7" r="1.8" fill="#000000" stroke="#000000" stroke-width="0.6" opacity="0.18"/>
<circle cx="262.62" cy="289.4" r="1.8" fill="#000000" stroke="#000000" stroke-width="0.6" opacity="0.18"/>
<g opacity="0.7">
<line x1="302.94" y1="317.33" x2="302.94" y2="323.78" stroke="#000000" stroke-width="0.9" />
<line x1="300.64" y1="317.33" x2="305.24" y2="317.33" stroke="#000000" stroke-width="0.9" />
<line x1="300.64" y1="323.78" x2="305.24" y2="323.78" stroke="#000000" stroke-width="0.9" />
</g>
<circle cx="302.94" cy="323.78" r="1.8" fill="#000000" stroke="#000000" stroke-width="0.6" opacity="0.18"/>
<circle cx="302.94" cy="317.33" r="1.8" fill="#000000" stroke="#000000" stroke-width="0.6" opacity="0.18"/>
<g opacity="0.7">
<line x1="343.26" y1="346.61" x2="343.26" y2="350.91" stroke="#000000" stroke-width="0.9" />
<line x1="340.96" y1="346.61" x2="345.56" y2="346.61" stroke="#000000" stroke-width="0.9" />
<line x1="340.96" y1="350.91" x2="345.56" y2="350.91" stroke="#000000" stroke-width="0.9" />
</g>
<circle cx="343.26" cy="350.91" r="1.8" fill="#000000" stroke="#000000" stroke-width="0.6" opacity="0.18"/>
<circle cx="343.26" cy="346.61" r="1.8" fill="#000000" stroke="#000000" stroke-width="0.6" opacity="0.18"/>
<g opacity="0.7">
<line x1="383.58" y1="355.74" x2="383.58" y2="361.12" stroke="#000000" stroke-width="0.9" />
<line x1="381.28" y1="355.74" x2="385.88" y2="355.74" stroke="#000000" stroke-width="0.9" />
<line x1="381.28" y1="361.12" x2="385.88" y2="361.12" stroke="#000000" stroke-width="0.9" />
</g>
<circle cx="383.58" cy="361.12" r="1.8" fill="#000000" stroke="#000000" stroke-width="0.6" opacity="0.18"/>
<circle cx="383.58" cy="355.74" r="1.8" fill="#000000" stroke="#000000" stroke-width="0.6" opacity="0.18"/>
<g opacity="0.7">
<line x1="423.9" y1="356.28" x2="423.9" y2="361.65" stroke="#000000" stroke-width="0.9" />
<line x1="421.6" y1="356.28" x2="426.2" y2="356.28" stroke="#000000" stroke-width="0.9" />
<line x1="421.6" y1="361.65" x2="426.2" y2="361.65" stroke="#000000" stroke-width="0.9" />
</g>
<circle cx="423.9" cy="361.65" r="1.8" fill="#000000" stroke="#000000" stroke-width="0.6" opacity="0.18"/>
<circle cx="423.9" cy="356.28" r="1.8" fill="#000000" stroke="#000000" stroke-width="0.6" opacity="0.18"/>
<g opacity="0.7">
<line x1="262.62" y1="292.35" x2="262.62" y2="297.73" stroke="#f5862a" stroke-width="0.9" />
<line x1="260.32" y1="292.35" x2="264.92" y2="292.35" stroke="#f5862a" stroke-width="0.9" />
<line x1="260.32" y1="297.73" x2="264.92" y2="297.73" stroke="#f5862a" stroke-width="0.9" />
</g>
<polygon points="262.62,295.35 265,297.73 262.62,300.1 260.24,297.73" fill="none" stroke="#f5862a" stroke-width="0.9" opacity="0.18"/>
<polygon points="262.62,289.98 265,292.35 262.62,294.73 260.24,292.35" fill="none" stroke="#f5862a" stroke-width="0.9" opacity="0.18"/>
<g opacity="0.7">
<line x1="302.94" y1="306.05" x2="302.94" y2="314.11" stroke="#f5862a" stroke-width="0.9" />
<line x1="300.64" y1="306.05" x2="305.24" y2="306.05" stroke="#f5862a" stroke-width="0.9" />
<line x1="300.64" y1="314.11" x2="305.24" y2="314.11" stroke="#f5862a" stroke-width="0.9" />
</g>
<polygon points="302.94,311.73 305.32,314.11 302.94,316.49 300.56,314.11" fill="none" stroke="#f5862a" stroke-width="0.9" opacity="0.18"/>
<polygon points="302.94,303.68 305.32,306.05 302.94,308.43 300.56,306.05" fill="none" stroke="#f5862a" stroke-width="0.9" opacity="0.18"/>
<g opacity="0.7">
<line x1="343.26" y1="323.24" x2="343.26" y2="344.73" stroke="#f5862a" stroke-width="0.9" />
<line x1="340.96" y1="323.24" x2="345.56" y2="323.24" stroke="#f5862a" stroke-width="0.9" />
<line x1="340.96" y1="344.73" x2="345.56" y2="344.73" stroke="#f5862a" stroke-width="0.9" />
</g>
<polygon points="343.26,342.35 345.64,344.73 343.26,347.11 340.88,344.73" fill="none" stroke="#f5862a" stroke-width="0.9" opacity="0.18"/>
<polygon points="343.26,320.87 345.64,323.24 343.26,325.62 340.88,323.24" fill="none" stroke="#f5862a" stroke-width="0.9" opacity="0.18"/>
<g opacity="0.7">
<line x1="383.58" y1="351.18" x2="383.58" y2="359.24" stroke="#f5862a" stroke-width="0.9" />
<line x1="381.28" y1="351.18" x2="385.88" y2="351.18" stroke="#f5862a" stroke-width="0.9" />
<line x1="381.28" y1="359.24" x2="385.88" y2="359.24" stroke="#f5862a" stroke-width="0.9" />
</g>
<polygon points="383.58,356.86 385.96,359.24 383.58,361.61 381.2,359.24" fill="none" stroke="#f5862a" stroke-width="0.9" opacity="0.18"/>
<polygon points="383.58,348.8 385.96,351.18 383.58,353.55 381.2,351.18" fill="none" stroke="#f5862a" stroke-width="0.9" opacity="0.18"/>
<g opacity="0.7">
<line x1="423.9" y1="350.91" x2="423.9" y2="361.65" stroke="#f5862a" stroke-width="0.9" />
<line x1="421.6" y1="350.91" x2="426.2" y2="350.91" stroke="#f5862a" stroke-width="0.9" />
<line x1="421.6" y1="361.65" x2="426.2" y2="361.65" stroke="#f5862a" stroke-width="0.9" />
</g>
<polygon points="423.9,359.28 426.28,361.65 423.9,364.03 421.52,361.65" fill="none" stroke="#f5862a" stroke-width="0.9" opacity="0.18"/>
<polygon points="423.9,348.53 426.28,350.91 423.9,353.28 421.52,350.91" fill="none" stroke="#f5862a" stroke-width="0.9" opacity="0.18"/>
<g opacity="0.7">
<line x1="262.62" y1="292.89" x2="262.62" y2="298.26" stroke="#b84dff" stroke-width="0.9" />
<line x1="260.32" y1="292.89" x2="264.92" y2="292.89" stroke="#b84dff" stroke-width="0.9" />
<line x1="260.32" y1="298.26" x2="264.92" y2="298.26" stroke="#b84dff" stroke-width="0.9" />
</g>
<polygon points="262.62,300.54 264.8,296.78 260.44,296.78" fill="none" stroke="#b84dff" stroke-width="0.9" opacity="0.18"/>
<polygon points="262.62,295.17 264.8,291.41 260.44,291.41" fill="none" stroke="#b84dff" stroke-width="0.9" opacity="0.18"/>
<g opacity="0.7">
<line x1="302.94" y1="302.29" x2="302.94" y2="307.66" stroke="#b84dff" stroke-width="0.9" />
<line x1="300.64" y1="302.29" x2="305.24" y2="302.29" stroke="#b84dff" stroke-width="0.9" />
<line x1="300.64" y1="307.66" x2="305.24" y2="307.66" stroke="#b84dff" stroke-width="0.9" />
</g>
<polygon points="302.94,309.94 305.12,306.18 300.76,306.18" fill="none" stroke="#b84dff" stroke-width="0.9" opacity="0.18"/>
<polygon points="302.94,304.57 305.12,300.81 300.76,300.81" fill="none" stroke="#b84dff" stroke-width="0.9" opacity="0.18"/>
<g opacity="0.7">
<line x1="343.26" y1="307.13" x2="343.26" y2="317.87" stroke="#b84dff" stroke-width="0.9" />
<line x1="340.96" y1="307.13" x2="345.56" y2="307.13" stroke="#b84dff" stroke-width="0.9" />
<line x1="340.96" y1="317.87" x2="345.56" y2="317.87" stroke="#b84dff" stroke-width="0.9" />
</g>
<polygon points="343.26,320.15 345.44,316.39 341.08,316.39" fill="none" stroke="#b84dff" stroke-width="0.9" opacity="0.18"/>
<polygon points="343.26,309.4 345.44,305.64 341.08,305.64" fill="none" stroke="#b84dff" stroke-width="0.9" opacity="0.18"/>
<g opacity="0.7">
<line x1="383.58" y1="324.05" x2="383.58" y2="329.42" stroke="#b84dff" stroke-width="0.9" />
<line x1="381.28" y1="324.05" x2="385.88" y2="324.05" stroke="#b84dff" stroke-width="0.9" />
<line x1="381.28" y1="329.42" x2="385.88" y2="329.42" stroke="#b84dff" stroke-width="0.9" />
</g>
<polygon points="383.58,331.7 385.76,327.94 381.4,327.94" fill="none" stroke="#b84dff" stroke-width="0.9" opacity="0.18"/>
<polygon points="383.58,326.33 385.76,322.56 381.4,322.56" fill="none" stroke="#b84dff" stroke-width="0.9" opacity="0.18"/>
<g opacity="0.7">
<line x1="423.9" y1="332.11" x2="423.9" y2="338.55" stroke="#b84dff" stroke-width="0.9" />
<line x1="421.6" y1="332.11" x2="426.2" y2="332.11" stroke="#b84dff" stroke-width="0.9" />
<line x1="421.6" y1="338.55" x2="426.2" y2="338.55" stroke="#b84dff" stroke-width="0.9" />
</g>
<polygon points="423.9,340.83 426.08,337.07 421.72,337.07" fill="none" stroke="#b84dff" stroke-width="0.9" opacity="0.18"/>
<polygon points="423.9,334.38 426.08,330.62 421.72,330.62" fill="none" stroke="#b84dff" stroke-width="0.9" opacity="0.18"/>
<g opacity="0.7">
<line x1="262.62" y1="292.89" x2="262.62" y2="298.26" stroke="#b3c42e" stroke-width="0.9" />
<line x1="260.32" y1="292.89" x2="264.92" y2="292.89" stroke="#b3c42e" stroke-width="0.9" />
<line x1="260.32" y1="298.26" x2="264.92" y2="298.26" stroke="#b3c42e" stroke-width="0.9" />
</g>
<polygon points="262.62,295.99 264.8,299.75 260.44,299.75" fill="none" stroke="#b3c42e" stroke-width="0.9" opacity="0.18"/>
<polygon points="262.62,290.61 264.8,294.38 260.44,294.38" fill="none" stroke="#b3c42e" stroke-width="0.9" opacity="0.18"/>
<g opacity="0.7">
<line x1="302.94" y1="300.95" x2="302.94" y2="306.32" stroke="#b3c42e" stroke-width="0.9" />
<line x1="300.64" y1="300.95" x2="305.24" y2="300.95" stroke="#b3c42e" stroke-width="0.9" />
<line x1="300.64" y1="306.32" x2="305.24" y2="306.32" stroke="#b3c42e" stroke-width="0.9" />
</g>
<polygon points="302.94,304.04 305.12,307.81 300.76,307.81" fill="none" stroke="#b3c42e" stroke-width="0.9" opacity="0.18"/>
<polygon points="302.94,298.67 305.12,302.43 300.76,302.43" fill="none" stroke="#b3c42e" stroke-width="0.9" opacity="0.18"/>
<g opacity="0.7">
<line x1="343.26" y1="297.46" x2="343.26" y2="305.52" stroke="#b3c42e" stroke-width="0.9" />
<line x1="340.96" y1="297.46" x2="345.56" y2="297.46" stroke="#b3c42e" stroke-width="0.9" />
<line x1="340.96" y1="305.52" x2="345.56" y2="305.52" stroke="#b3c42e" stroke-width="0.9" />
</g>
<polygon points="343.26,303.24 345.44,307 341.08,307" fill="none" stroke="#b3c42e" stroke-width="0.9" opacity="0.18"/>
<polygon points="343.26,295.18 345.44,298.94 341.08,298.94" fill="none" stroke="#b3c42e" stroke-width="0.9" opacity="0.18"/>
<g opacity="0.7">
<line x1="383.58" y1="287.25" x2="383.58" y2="306.05" stroke="#b3c42e" stroke-width="0.9" />
<line x1="381.28" y1="287.25" x2="385.88" y2="287.25" stroke="#b3c42e" stroke-width="0.9" />
<line x1="381.28" y1="306.05" x2="385.88" y2="306.05" stroke="#b3c42e" stroke-width="0.9" />
</g>
<polygon points="383.58,303.78 385.76,307.54 381.4,307.54" fill="none" stroke="#b3c42e" stroke-width="0.9" opacity="0.18"/>
<polygon points="383.58,284.97 385.76,288.74 381.4,288.74" fill="none" stroke="#b3c42e" stroke-width="0.9" opacity="0.18"/>
<g opacity="0.7">
<line x1="423.9" y1="280.8" x2="423.9" y2="304.98" stroke="#b3c42e" stroke-width="0.9" />
<line x1="421.6" y1="280.8" x2="426.2" y2="280.8" stroke="#b3c42e" stroke-width="0.9" />
<line x1="421.6" y1="304.98" x2="426.2" y2="304.98" stroke="#b3c42e" stroke-width="0.9" />
</g>
<polygon points="423.9,302.7 426.08,306.46 421.72,306.46" fill="none" stroke="#b3c42e" stroke-width="0.9" opacity="0.18"/>
<polygon points="423.9,278.53 426.08,282.29 421.72,282.29" fill="none" stroke="#b3c42e" stroke-width="0.9" opacity="0.18"/>
<g opacity="0.7">
<line x1="262.62" y1="292.89" x2="262.62" y2="298.26" stroke="#ff3333" stroke-width="0.9" />
<line x1="260.32" y1="292.89" x2="264.92" y2="292.89" stroke="#ff3333" stroke-width="0.9" />
<line x1="260.32" y1="298.26" x2="264.92" y2="298.26" stroke="#ff3333" stroke-width="0.9" />
</g>
<rect x="260.64" y="296.28" width="3.96" height="3.96" fill="none" stroke="#ff3333" stroke-width="0.9" opacity="0.18"/>
<rect x="260.64" y="290.91" width="3.96" height="3.96" fill="none" stroke="#ff3333" stroke-width="0.9" opacity="0.18"/>
<g opacity="0.7">
<line x1="302.94" y1="294.23" x2="302.94" y2="299.61" stroke="#ff3333" stroke-width="0.9" />
<line x1="300.64" y1="294.23" x2="305.24" y2="294.23" stroke="#ff3333" stroke-width="0.9" />
<line x1="300.64" y1="299.61" x2="305.24" y2="299.61" stroke="#ff3333" stroke-width="0.9" />
</g>
<rect x="300.96" y="297.63" width="3.96" height="3.96" fill="none" stroke="#ff3333" stroke-width="0.9" opacity="0.18"/>
<rect x="300.96" y="292.25" width="3.96" height="3.96" fill="none" stroke="#ff3333" stroke-width="0.9" opacity="0.18"/>
<g opacity="0.7">
<line x1="343.26" y1="285.1" x2="343.26" y2="293.16" stroke="#ff3333" stroke-width="0.9" />
<line x1="340.96" y1="285.1" x2="345.56" y2="285.1" stroke="#ff3333" stroke-width="0.9" />
<line x1="340.96" y1="293.16" x2="345.56" y2="293.16" stroke="#ff3333" stroke-width="0.9" />
</g>
<rect x="341.28" y="291.18" width="3.96" height="3.96" fill="none" stroke="#ff3333" stroke-width="0.9" opacity="0.18"/>
<rect x="341.28" y="283.12" width="3.96" height="3.96" fill="none" stroke="#ff3333" stroke-width="0.9" opacity="0.18"/>
<g opacity="0.7">
<line x1="383.58" y1="282.42" x2="383.58" y2="287.79" stroke="#ff3333" stroke-width="0.9" />
<line x1="381.28" y1="282.42" x2="385.88" y2="282.42" stroke="#ff3333" stroke-width="0.9" />
<line x1="381.28" y1="287.79" x2="385.88" y2="287.79" stroke="#ff3333" stroke-width="0.9" />
</g>
<rect x="381.6" y="285.81" width="3.96" height="3.96" fill="none" stroke="#ff3333" stroke-width="0.9" opacity="0.18"/>
<rect x="381.6" y="280.44" width="3.96" height="3.96" fill="none" stroke="#ff3333" stroke-width="0.9" opacity="0.18"/>
<g opacity="0.7">
<line x1="423.9" y1="279.19" x2="423.9" y2="283.49" stroke="#ff3333" stroke-width="0.9" />
<line x1="421.6" y1="279.19" x2="426.2" y2="279.19" stroke="#ff3333" stroke-width="0.9" />
<line x1="421.6" y1="283.49" x2="426.2" y2="283.49" stroke="#ff3333" stroke-width="0.9" />
</g>
<rect x="421.92" y="281.51" width="3.96" height="3.96" fill="none" stroke="#ff3333" stroke-width="0.9" opacity="0.18"/>
<rect x="421.92" y="277.21" width="3.96" height="3.96" fill="none" stroke="#ff3333" stroke-width="0.9" opacity="0.18"/>
<g opacity="0.7">
<line x1="262.62" y1="294.23" x2="262.62" y2="299.61" stroke="#3333ff" stroke-width="0.9" />
<line x1="260.32" y1="294.23" x2="264.92" y2="294.23" stroke="#3333ff" stroke-width="0.9" />
<line x1="260.32" y1="299.61" x2="264.92" y2="299.61" stroke="#3333ff" stroke-width="0.9" />
</g>
<circle cx="262.62" cy="299.61" r="1.98" fill="none" stroke="#3333ff" stroke-width="0.9" opacity="0.18"/>
<circle cx="262.62" cy="294.23" r="1.98" fill="none" stroke="#3333ff" stroke-width="0.9" opacity="0.18"/>
<g opacity="0.7">
<line x1="302.94" y1="280.54" x2="302.94" y2="288.59" stroke="#3333ff" stroke-width="0.9" />
<line x1="300.64" y1="280.54" x2="305.24" y2="280.54" stroke="#3333ff" stroke-width="0.9" />
<line x1="300.64" y1="288.59" x2="305.24" y2="288.59" stroke="#3333ff" stroke-width="0.9" />
</g>
<circle cx="302.94" cy="288.59" r="1.98" fill="none" stroke="#3333ff" stroke-width="0.9" opacity="0.18"/>
<circle cx="302.94" cy="280.54" r="1.98" fill="none" stroke="#3333ff" stroke-width="0.9" opacity="0.18"/>
<g opacity="0.7">
<line x1="343.26" y1="269.52" x2="343.26" y2="275.97" stroke="#3333ff" stroke-width="0.9" />
<line x1="340.96" y1="269.52" x2="345.56" y2="269.52" stroke="#3333ff" stroke-width="0.9" />
<line x1="340.96" y1="275.97" x2="345.56" y2="275.97" stroke="#3333ff" stroke-width="0.9" />
</g>
<circle cx="343.26" cy="275.97" r="1.98" fill="none" stroke="#3333ff" stroke-width="0.9" opacity="0.18"/>
<circle cx="343.26" cy="269.52" r="1.98" fill="none" stroke="#3333ff" stroke-width="0.9" opacity="0.18"/>
<g opacity="0.7">
<line x1="383.58" y1="267.37" x2="383.58" y2="275.43" stroke="#3333ff" stroke-width="0.9" />
<line x1="381.28" y1="267.37" x2="385.88" y2="267.37" stroke="#3333ff" stroke-width="0.9" />
<line x1="381.28" y1="275.43" x2="385.88" y2="275.43" stroke="#3333ff" stroke-width="0.9" />
</g>
<circle cx="383.58" cy="275.43" r="1.98" fill="none" stroke="#3333ff" stroke-width="0.9" opacity="0.18"/>
<circle cx="383.58" cy="267.37" r="1.98" fill="none" stroke="#3333ff" stroke-width="0.9" opacity="0.18"/>
<g opacity="0.7">
<line x1="423.9" y1="273.82" x2="423.9" y2="278.12" stroke="#3333ff" stroke-width="0.9" />
<line x1="421.6" y1="273.82" x2="426.2" y2="273.82" stroke="#3333ff" stroke-width="0.9" />
<line x1="421.6" y1="278.12" x2="426.2" y2="278.12" stroke="#3333ff" stroke-width="0.9" />
</g>
<circle cx="423.9" cy="278.12" r="1.98" fill="none" stroke="#3333ff" stroke-width="0.9" opacity="0.18"/>
<circle cx="423.9" cy="273.82" r="1.98" fill="none" stroke="#3333ff" stroke-width="0.9" opacity="0.18"/>
<polyline points="222.3,330.5 262.62,358.7 302.94,355.21 343.26,355.21 383.58,358.7 423.9,363.26" fill="none" stroke="#9c7440" stroke-width="1.0"/>
<polyline points="222.3,330.5 262.62,291.55 302.94,320.56 343.26,348.76 383.58,358.43 423.9,358.97" fill="none" stroke="#000000" stroke-width="1.0"/>
<polyline points="222.3,330.5 262.62,295.04 302.94,310.08 343.26,333.99 383.58,355.21 423.9,356.28" fill="none" stroke="#f5862a" stroke-width="1.0"/>
<polyline points="222.3,330.5 262.62,295.58 302.94,304.98 343.26,312.5 383.58,326.73 423.9,335.33" fill="none" stroke="#b84dff" stroke-width="1.0"/>
<polyline points="222.3,330.5 262.62,295.58 302.94,303.63 343.26,301.49 383.58,296.65 423.9,292.89" fill="none" stroke="#b3c42e" stroke-width="1.0"/>
<polyline points="222.3,330.5 262.62,295.58 302.94,296.92 343.26,289.13 383.58,285.1 423.9,281.34" fill="none" stroke="#ff3333" stroke-width="1.0"/>
<polyline points="222.3,330.5 262.62,296.92 302.94,284.56 343.26,272.75 383.58,271.4 423.9,275.97" fill="none" stroke="#3333ff" stroke-width="1.0"/>
<path d="M260.82,358.7H264.42M262.62,356.9V360.5" stroke="#9c7440" stroke-width="0.9"/>
<path d="M301.14,355.21H304.74M302.94,353.41V357.01" stroke="#9c7440" stroke-width="0.9"/>
<path d="M341.46,355.21H345.06M343.26,353.41V357.01" stroke="#9c7440" stroke-width="0.9"/>
<path d="M381.78,358.7H385.38M383.58,356.9V360.5" stroke="#9c7440" stroke-width="0.9"/>
<path d="M422.1,363.26H425.7M423.9,361.46V365.06" stroke="#9c7440" stroke-width="0.9"/>
<circle cx="262.62" cy="291.55" r="2" fill="#000000" stroke="#000000" stroke-width="0.6"/>
<circle cx="302.94" cy="320.56" r="2" fill="#000000" stroke="#000000" stroke-width="0.6"/>
<circle cx="343.26" cy="348.76" r="2" fill="#000000" stroke="#000000" stroke-width="0.6"/>
<circle cx="383.58" cy="358.43" r="2" fill="#000000" stroke="#000000" stroke-width="0.6"/>
<circle cx="423.9" cy="358.97" r="2" fill="#000000" stroke="#000000" stroke-width="0.6"/>
<polygon points="262.62,292.4 265.26,295.04 262.62,297.68 259.98,295.04" fill="none" stroke="#f5862a" stroke-width="0.9"/>
<polygon points="302.94,307.44 305.58,310.08 302.94,312.72 300.3,310.08" fill="none" stroke="#f5862a" stroke-width="0.9"/>
<polygon points="343.26,331.35 345.9,333.99 343.26,336.63 340.62,333.99" fill="none" stroke="#f5862a" stroke-width="0.9"/>
<polygon points="383.58,352.57 386.22,355.21 383.58,357.85 380.94,355.21" fill="none" stroke="#f5862a" stroke-width="0.9"/>
<polygon points="423.9,353.64 426.54,356.28 423.9,358.92 421.26,356.28" fill="none" stroke="#f5862a" stroke-width="0.9"/>
<polygon points="262.62,298.11 265.04,293.93 260.2,293.93" fill="none" stroke="#b84dff" stroke-width="0.9"/>
<polygon points="302.94,307.51 305.36,303.33 300.52,303.33" fill="none" stroke="#b84dff" stroke-width="0.9"/>
<polygon points="343.26,315.03 345.68,310.85 340.84,310.85" fill="none" stroke="#b84dff" stroke-width="0.9"/>
<polygon points="383.58,329.26 386,325.08 381.16,325.08" fill="none" stroke="#b84dff" stroke-width="0.9"/>
<polygon points="423.9,337.86 426.32,333.68 421.48,333.68" fill="none" stroke="#b84dff" stroke-width="0.9"/>
<polygon points="262.62,293.05 265.04,297.23 260.2,297.23" fill="none" stroke="#b3c42e" stroke-width="0.9"/>
<polygon points="302.94,301.11 305.36,305.28 300.52,305.28" fill="none" stroke="#b3c42e" stroke-width="0.9"/>
<polygon points="343.26,298.96 345.68,303.14 340.84,303.14" fill="none" stroke="#b3c42e" stroke-width="0.9"/>
<polygon points="383.58,294.12 386,298.3 381.16,298.3" fill="none" stroke="#b3c42e" stroke-width="0.9"/>
<polygon points="423.9,290.36 426.32,294.54 421.48,294.54" fill="none" stroke="#b3c42e" stroke-width="0.9"/>
<rect x="260.42" y="293.38" width="4.4" height="4.4" fill="none" stroke="#ff3333" stroke-width="0.9"/>
<rect x="300.74" y="294.72" width="4.4" height="4.4" fill="none" stroke="#ff3333" stroke-width="0.9"/>
<rect x="341.06" y="286.93" width="4.4" height="4.4" fill="none" stroke="#ff3333" stroke-width="0.9"/>
<rect x="381.38" y="282.9" width="4.4" height="4.4" fill="none" stroke="#ff3333" stroke-width="0.9"/>
<rect x="421.7" y="279.14" width="4.4" height="4.4" fill="none" stroke="#ff3333" stroke-width="0.9"/>
<circle cx="262.62" cy="296.92" r="2.2" fill="none" stroke="#3333ff" stroke-width="0.9"/>
<circle cx="302.94" cy="284.56" r="2.2" fill="none" stroke="#3333ff" stroke-width="0.9"/>
<circle cx="343.26" cy="272.75" r="2.2" fill="none" stroke="#3333ff" stroke-width="0.9"/>
<circle cx="383.58" cy="271.4" r="2.2" fill="none" stroke="#3333ff" stroke-width="0.9"/>
<circle cx="423.9" cy="275.97" r="2.2" fill="none" stroke="#3333ff" stroke-width="0.9"/>
<rect x="219.5" y="327.7" width="5.4" height="5.4" fill="#c8a0f0" stroke="#ff3355" stroke-width="0.8"/>
<rect x="219.9" y="328.1" width="4.6" height="4.6" fill="none" stroke="#2020ff" stroke-width="1.1"/>
<circle cx="222.2" cy="330.4" r="0.8" fill="#e06a30"/>
<line x1="222.3" y1="377.5" x2="222.3" y2="383.5" stroke="#000" stroke-width="1.6" />
<text x="222.3" y="395" font-family='"Liberation Serif", serif' font-size="10.5" font-weight="bold" fill="#000" text-anchor="middle" stroke="#000" stroke-width="0.2" >0</text>
<line x1="262.62" y1="377.5" x2="262.62" y2="383.5" stroke="#000" stroke-width="1.6" />
<text x="262.62" y="395" font-family='"Liberation Serif", serif' font-size="10.5" font-weight="bold" fill="#000" text-anchor="middle" stroke="#000" stroke-width="0.2" >3</text>
<line x1="302.94" y1="377.5" x2="302.94" y2="383.5" stroke="#000" stroke-width="1.6" />
<text x="302.94" y="395" font-family='"Liberation Serif", serif' font-size="10.5" font-weight="bold" fill="#000" text-anchor="middle" stroke="#000" stroke-width="0.2" >6</text>
<line x1="343.26" y1="377.5" x2="343.26" y2="383.5" stroke="#000" stroke-width="1.6" />
<text x="343.26" y="395" font-family='"Liberation Serif", serif' font-size="10.5" font-weight="bold" fill="#000" text-anchor="middle" stroke="#000" stroke-width="0.2" >9</text>
<line x1="383.58" y1="377.5" x2="383.58" y2="383.5" stroke="#000" stroke-width="1.6" />
<text x="383.58" y="395" font-family='"Liberation Serif", serif' font-size="10.5" font-weight="bold" fill="#000" text-anchor="middle" stroke="#000" stroke-width="0.2" >12</text>
<line x1="423.9" y1="377.5" x2="423.9" y2="383.5" stroke="#000" stroke-width="1.6" />
<text x="423.9" y="395" font-family='"Liberation Serif", serif' font-size="10.5" font-weight="bold" fill="#000" text-anchor="middle" stroke="#000" stroke-width="0.2" >15</text>
<text x="323.2" y="409.6" font-family='"Liberation Serif", serif' font-size="10.3" font-weight="bold" fill="#000" text-anchor="middle" stroke="#000" stroke-width="0.2" >Time (days)</text>
<text transform="translate(203.3,310.7) rotate(-90)" font-family='"Liberation Serif", serif' font-size="10.45" font-weight="bold" stroke="#000" stroke-width="0.2" text-anchor="middle">Log<tspan font-size="7.5" dy="2.5">10</tspan><tspan dy="-2.5"> RLU mL</tspan><tspan font-size="7.5" dy="-4">-1</tspan></text>
<line x1="445.3" y1="255" x2="459.7" y2="255" stroke="#3333ff" stroke-width="1.2" opacity="0.7"/>
<circle cx="452.5" cy="255" r="2.09" fill="none" stroke="#3333ff" stroke-width="0.9"/>
<text x="468.5" y="258.3" font-family='"Liberation Serif", serif' font-size="9.2" font-weight="bold" fill="#000" text-anchor="start" stroke="#000" stroke-width="0.2" >DMSO</text>
<line x1="445.3" y1="273.2" x2="459.7" y2="273.2" stroke="#ff3333" stroke-width="1.2" opacity="0.7"/>
<rect x="450.41" y="271.11" width="4.18" height="4.18" fill="none" stroke="#ff3333" stroke-width="0.9"/>
<text x="468.5" y="276.5" font-family='"Liberation Serif", serif' font-size="9.2" font-weight="bold" fill="#000" text-anchor="start" stroke="#000" stroke-width="0.2" >ILF 0.3125</text>
<line x1="445.3" y1="291.4" x2="459.7" y2="291.4" stroke="#b3c42e" stroke-width="1.2" opacity="0.7"/>
<polygon points="452.5,289 454.8,292.97 450.2,292.97" fill="none" stroke="#b3c42e" stroke-width="0.9"/>
<text x="468.5" y="294.7" font-family='"Liberation Serif", serif' font-size="9.2" font-weight="bold" fill="#000" text-anchor="start" stroke="#000" stroke-width="0.2" >ILF 0.625</text>
<line x1="445.3" y1="309.6" x2="459.7" y2="309.6" stroke="#b84dff" stroke-width="1.2" opacity="0.7"/>
<polygon points="452.5,312 454.8,308.03 450.2,308.03" fill="none" stroke="#b84dff" stroke-width="0.9"/>
<text x="468.5" y="312.9" font-family='"Liberation Serif", serif' font-size="9.2" font-weight="bold" fill="#000" text-anchor="start" stroke="#000" stroke-width="0.2" >ILF 1.25</text>
<line x1="445.3" y1="327.8" x2="459.7" y2="327.8" stroke="#f5862a" stroke-width="1.2" opacity="0.7"/>
<polygon points="452.5,325.29 455.01,327.8 452.5,330.31 449.99,327.8" fill="none" stroke="#f5862a" stroke-width="0.9"/>
<text x="468.5" y="331.1" font-family='"Liberation Serif", serif' font-size="9.2" font-weight="bold" fill="#000" text-anchor="start" stroke="#000" stroke-width="0.2" >ILF 2.5</text>
<line x1="445.3" y1="346" x2="459.7" y2="346" stroke="#000000" stroke-width="1.2" opacity="0.7"/>
<circle cx="452.5" cy="346" r="1.9" fill="#000000" stroke="#000000" stroke-width="0.6"/>
<text x="468.5" y="349.3" font-family='"Liberation Serif", serif' font-size="9.2" font-weight="bold" fill="#000" text-anchor="start" stroke="#000" stroke-width="0.2" >ILF 5</text>
<line x1="445.3" y1="364.2" x2="459.7" y2="364.2" stroke="#9c7440" stroke-width="1.2" opacity="0.7"/>
<path d="M450.79,364.2H454.21M452.5,362.49V365.91" stroke="#9c7440" stroke-width="0.9"/>
<text x="468.5" y="367.5" font-family='"Liberation Serif", serif' font-size="9.2" font-weight="bold" fill="#000" text-anchor="start" stroke="#000" stroke-width="0.2" >RIF 1</text>
<path d="M563.6,155.6V84.32H578.8V155.6" fill="none" stroke="#aaaaaa" stroke-width="1.8"/>
<path d="M588,155.6V65.22H602.6V155.6" fill="none" stroke="#2222ff" stroke-width="1.8"/>
<path d="M611.7,155.6V121.88H626.7V155.6" fill="none" stroke="#66ffff" stroke-width="1.8"/>
<path d="M635.8,155.6V134.06H650.6V155.6" fill="none" stroke="#dd88ff" stroke-width="1.8"/>
<path d="M660,155.6V149.19H675.5V155.6" fill="#f2e4cc" stroke="#c08a40" stroke-width="1.8"/>
<circle cx="566.2" cy="85.09" r="2.9" fill="#666" stroke="#666" stroke-width="0.3"/>
<circle cx="571.2" cy="82.27" r="2.9" fill="#666" stroke="#666" stroke-width="0.3"/>
<circle cx="576.2" cy="84.45" r="2.9" fill="#666" stroke="#666" stroke-width="0.3"/>
<rect x="587.9" y="63.16" width="5.4" height="5.4" fill="#1111ee" stroke="#1111ee" stroke-width="0.3"/>
<rect x="592.6" y="61.24" width="5.4" height="5.4" fill="#1111ee" stroke="#1111ee" stroke-width="0.3"/>
<rect x="597.3" y="62.9" width="5.4" height="5.4" fill="#1111ee" stroke="#1111ee" stroke-width="0.3"/>
<polygon points="614.3,117.77 617.38,123.09 611.22,123.09" fill="#1a1aff" stroke="#1a1aff" stroke-width="0.3"/>
<polygon points="619.2,117.12 622.28,122.44 616.12,122.44" fill="#1a1aff" stroke="#1a1aff" stroke-width="0.3"/>
<polygon points="624.1,117.77 627.18,123.09 621.02,123.09" fill="#1a1aff" stroke="#1a1aff" stroke-width="0.3"/>
<line x1="643.2" y1="124.45" x2="643.2" y2="142.65" stroke="#cc55ee" stroke-width="1.0" />
<line x1="640.2" y1="124.45" x2="646.2" y2="124.45" stroke="#cc55ee" stroke-width="1.0" />
<line x1="640.2" y1="142.65" x2="646.2" y2="142.65" stroke="#cc55ee" stroke-width="1.0" opacity="0.6"/>
<polygon points="643.2,125.49 646.28,120.17 640.12,120.17" fill="#cc22dd" stroke="#cc22dd" stroke-width="0.3"/>
<polygon points="638.5,141.77 641.58,136.45 635.42,136.45" fill="#cc22dd" stroke="#cc22dd" stroke-width="0.3"/>
<polygon points="647.9,142.15 650.98,136.83 644.82,136.83" fill="#cc22dd" stroke="#cc22dd" stroke-width="0.3"/>
<polygon points="661.8,155.55 665.43,149.28 658.17,149.28" fill="#5a1458" stroke="#5a1458" stroke-width="0.3"/>
<polygon points="667.5,151.7 671.13,145.43 663.87,145.43" fill="#5a1458" stroke="#5a1458" stroke-width="0.3"/>
<polygon points="673,155.55 676.63,149.28 669.37,149.28" fill="#5a1458" stroke="#5a1458" stroke-width="0.3"/>
<path d="M595.3,35.7V31.9H667.3V140" fill="none" stroke="#000" stroke-width="1.4"/>
<path d="M595.3,50.3V44.1H643.3V117" fill="none" stroke="#000" stroke-width="1.4"/>
<path d="M595.3,61V56.4H619.2V116.5" fill="none" stroke="#000" stroke-width="1.4"/>
<path d="M623.98,25.7L623.98,29.3M622.42,26.6L625.53,28.4M622.42,28.4L625.53,26.6" stroke="#000" stroke-width="0.95"/>
<circle cx="623.98" cy="27.5" r="0.8" fill="#000"/>
<path d="M628.73,25.7L628.73,29.3M627.17,26.6L630.28,28.4M627.17,28.4L630.28,26.6" stroke="#000" stroke-width="0.95"/>
<circle cx="628.73" cy="27.5" r="0.8" fill="#000"/>
<path d="M633.48,25.7L633.48,29.3M631.92,26.6L635.03,28.4M631.92,28.4L635.03,26.6" stroke="#000" stroke-width="0.95"/>
<circle cx="633.48" cy="27.5" r="0.8" fill="#000"/>
<path d="M638.23,25.7L638.23,29.3M636.67,26.6L639.78,28.4M636.67,28.4L639.78,26.6" stroke="#000" stroke-width="0.95"/>
<circle cx="638.23" cy="27.5" r="0.8" fill="#000"/>
<path d="M611.67,37.9L611.67,41.5M610.12,38.8L613.23,40.6M610.12,40.6L613.23,38.8" stroke="#000" stroke-width="0.95"/>
<circle cx="611.67" cy="39.7" r="0.8" fill="#000"/>
<path d="M616.42,37.9L616.42,41.5M614.87,38.8L617.98,40.6M614.87,40.6L617.98,38.8" stroke="#000" stroke-width="0.95"/>
<circle cx="616.42" cy="39.7" r="0.8" fill="#000"/>
<path d="M621.17,37.9L621.17,41.5M619.62,38.8L622.73,40.6M619.62,40.6L622.73,38.8" stroke="#000" stroke-width="0.95"/>
<circle cx="621.17" cy="39.7" r="0.8" fill="#000"/>
<path d="M625.92,37.9L625.92,41.5M624.37,38.8L627.48,40.6M624.37,40.6L627.48,38.8" stroke="#000" stroke-width="0.95"/>
<circle cx="625.92" cy="39.7" r="0.8" fill="#000"/>
<path d="M599.77,50.2L599.77,53.8M598.22,51.1L601.33,52.9M598.22,52.9L601.33,51.1" stroke="#000" stroke-width="0.95"/>
<circle cx="599.77" cy="52" r="0.8" fill="#000"/>
<path d="M604.52,50.2L604.52,53.8M602.97,51.1L606.08,52.9M602.97,52.9L606.08,51.1" stroke="#000" stroke-width="0.95"/>
<circle cx="604.52" cy="52" r="0.8" fill="#000"/>
<path d="M609.27,50.2L609.27,53.8M607.72,51.1L610.83,52.9M607.72,52.9L610.83,51.1" stroke="#000" stroke-width="0.95"/>
<circle cx="609.27" cy="52" r="0.8" fill="#000"/>
<path d="M614.02,50.2L614.02,53.8M612.47,51.1L615.58,52.9M612.47,52.9L615.58,51.1" stroke="#000" stroke-width="0.95"/>
<circle cx="614.02" cy="52" r="0.8" fill="#000"/>
<line x1="554.9" y1="26.6" x2="554.9" y2="156.4" stroke="#000" stroke-width="1.65" />
<line x1="554.1" y1="155.6" x2="683.5" y2="155.6" stroke="#000" stroke-width="1.65" />
<line x1="549.9" y1="155.6" x2="554.9" y2="155.6" stroke="#000" stroke-width="1.5" />
<text x="547.9" y="158.9" font-family='"Liberation Serif", serif' font-size="9.7" font-weight="bold" fill="#000" text-anchor="end" stroke="#000" stroke-width="0.2" >0</text>
<line x1="549.9" y1="142.78" x2="554.9" y2="142.78" stroke="#000" stroke-width="1.5" />
<text x="547.9" y="146.08" font-family='"Liberation Serif", serif' font-size="9.7" font-weight="bold" fill="#000" text-anchor="end" stroke="#000" stroke-width="0.2" >1</text>
<line x1="549.9" y1="129.96" x2="554.9" y2="129.96" stroke="#000" stroke-width="1.5" />
<text x="547.9" y="133.26" font-family='"Liberation Serif", serif' font-size="9.7" font-weight="bold" fill="#000" text-anchor="end" stroke="#000" stroke-width="0.2" >2</text>
<line x1="549.9" y1="117.14" x2="554.9" y2="117.14" stroke="#000" stroke-width="1.5" />
<text x="547.9" y="120.44" font-family='"Liberation Serif", serif' font-size="9.7" font-weight="bold" fill="#000" text-anchor="end" stroke="#000" stroke-width="0.2" >3</text>
<line x1="549.9" y1="104.32" x2="554.9" y2="104.32" stroke="#000" stroke-width="1.5" />
<text x="547.9" y="107.62" font-family='"Liberation Serif", serif' font-size="9.7" font-weight="bold" fill="#000" text-anchor="end" stroke="#000" stroke-width="0.2" >4</text>
<line x1="549.9" y1="91.5" x2="554.9" y2="91.5" stroke="#000" stroke-width="1.5" />
<text x="547.9" y="94.8" font-family='"Liberation Serif", serif' font-size="9.7" font-weight="bold" fill="#000" text-anchor="end" stroke="#000" stroke-width="0.2" >5</text>
<line x1="549.9" y1="78.68" x2="554.9" y2="78.68" stroke="#000" stroke-width="1.5" />
<text x="547.9" y="81.98" font-family='"Liberation Serif", serif' font-size="9.7" font-weight="bold" fill="#000" text-anchor="end" stroke="#000" stroke-width="0.2" >6</text>
<line x1="549.9" y1="65.86" x2="554.9" y2="65.86" stroke="#000" stroke-width="1.5" />
<text x="547.9" y="69.16" font-family='"Liberation Serif", serif' font-size="9.7" font-weight="bold" fill="#000" text-anchor="end" stroke="#000" stroke-width="0.2" >7</text>
<line x1="549.9" y1="53.04" x2="554.9" y2="53.04" stroke="#000" stroke-width="1.5" />
<text x="547.9" y="56.34" font-family='"Liberation Serif", serif' font-size="9.7" font-weight="bold" fill="#000" text-anchor="end" stroke="#000" stroke-width="0.2" >8</text>
<line x1="549.9" y1="40.22" x2="554.9" y2="40.22" stroke="#000" stroke-width="1.5" />
<text x="547.9" y="43.52" font-family='"Liberation Serif", serif' font-size="9.7" font-weight="bold" fill="#000" text-anchor="end" stroke="#000" stroke-width="0.2" >9</text>
<line x1="549.9" y1="27.4" x2="554.9" y2="27.4" stroke="#000" stroke-width="1.5" />
<text x="547.9" y="30.7" font-family='"Liberation Serif", serif' font-size="9.7" font-weight="bold" fill="#000" text-anchor="end" stroke="#000" stroke-width="0.2" >10</text>
<line x1="571.2" y1="155.6" x2="571.2" y2="160.6" stroke="#000" stroke-width="1.5" />
<line x1="595.3" y1="155.6" x2="595.3" y2="160.6" stroke="#000" stroke-width="1.5" />
<line x1="619.2" y1="155.6" x2="619.2" y2="160.6" stroke="#000" stroke-width="1.5" />
<line x1="643.2" y1="155.6" x2="643.2" y2="160.6" stroke="#000" stroke-width="1.5" />
<line x1="667.5" y1="155.6" x2="667.5" y2="160.6" stroke="#000" stroke-width="1.5" />
<text transform="translate(574,168.9) rotate(-45)" font-family='"Liberation Serif", serif' font-size="9.2" font-weight="bold" stroke="#000" stroke-width="0.2" text-anchor="end">Inoculation</text>
<text transform="translate(598.1,168.9) rotate(-45)" font-family='"Liberation Serif", serif' font-size="9.2" font-weight="bold" stroke="#000" stroke-width="0.2" text-anchor="end">DMSO</text>
<text transform="translate(622,168.9) rotate(-45)" font-family='"Liberation Serif", serif' font-size="9.2" font-weight="bold" stroke="#000" stroke-width="0.2" text-anchor="end">ILE 0.05</text>
<text transform="translate(646,168.9) rotate(-45)" font-family='"Liberation Serif", serif' font-size="9.2" font-weight="bold" stroke="#000" stroke-width="0.2" text-anchor="end">ILE 0.1</text>
<text transform="translate(670.3,168.9) rotate(-45)" font-family='"Liberation Serif", serif' font-size="9.2" font-weight="bold" stroke="#000" stroke-width="0.2" text-anchor="end">RIF 1</text>
<text transform="translate(531.7,90.9) rotate(-90)" font-family='"Liberation Serif", serif' font-size="10.9" font-weight="bold" stroke="#000" stroke-width="0.2" text-anchor="middle">Log<tspan font-size="7.5" dy="2.5">10</tspan><tspan dy="-2.5">CFU mL</tspan><tspan font-size="7.5" dy="-4">-1</tspan></text>
<path d="M559.5,384.5V313.48H574.9V384.5" fill="none" stroke="#aaaaaa" stroke-width="1.8"/>
<path d="M584,384.5V294.25H598.8V384.5" fill="none" stroke="#4444ff" stroke-width="1.8"/>
<path d="M608.2,384.5V350.27H623.2V384.5" fill="none" stroke="#ff66ff" stroke-width="1.8"/>
<path d="M632.1,384.5V365.78H647.3V384.5" fill="none" stroke="#f08a3a" stroke-width="1.8"/>
<path d="M656,384.5V378.6H671.2V384.5" fill="#f2e4cc" stroke="#c49a60" stroke-width="1.8"/>
<circle cx="562" cy="314.63" r="2.9" fill="#666" stroke="#666" stroke-width="0.3"/>
<circle cx="567.2" cy="311.68" r="2.9" fill="#666" stroke="#666" stroke-width="0.3"/>
<circle cx="572.4" cy="313.35" r="2.9" fill="#666" stroke="#666" stroke-width="0.3"/>
<rect x="583.8" y="292.7" width="5.4" height="5.4" fill="#1a1a88" stroke="#1a1a88" stroke-width="0.3"/>
<rect x="588.7" y="289.88" width="5.4" height="5.4" fill="#1a1a88" stroke="#1a1a88" stroke-width="0.3"/>
<rect x="593.6" y="292.06" width="5.4" height="5.4" fill="#1a1a88" stroke="#1a1a88" stroke-width="0.3"/>
<circle cx="610.6" cy="350.14" r="2.9" fill="#8a2aa0" stroke="#8a2aa0" stroke-width="0.3"/>
<circle cx="615.7" cy="348.86" r="2.9" fill="#8a2aa0" stroke="#8a2aa0" stroke-width="0.3"/>
<circle cx="620.8" cy="349.63" r="2.9" fill="#8a2aa0" stroke="#8a2aa0" stroke-width="0.3"/>
<line x1="639.7" y1="360.01" x2="639.7" y2="371.55" stroke="#e07a2a" stroke-width="1.0" />
<line x1="636.7" y1="360.01" x2="642.7" y2="360.01" stroke="#e07a2a" stroke-width="1.0" />
<line x1="636.7" y1="371.55" x2="642.7" y2="371.55" stroke="#e07a2a" stroke-width="1.0" opacity="0.6"/>
<rect x="631.9" y="357.44" width="5.4" height="5.4" fill="#b86a20" stroke="#b86a20" stroke-width="0.3"/>
<rect x="642.1" y="360.65" width="5.4" height="5.4" fill="#b86a20" stroke="#b86a20" stroke-width="0.3"/>
<rect x="637" y="368.98" width="5.4" height="5.4" fill="#b86a20" stroke="#b86a20" stroke-width="0.3"/>
<polygon points="658.6,384.71 662.23,378.44 654.97,378.44" fill="#5a1458" stroke="#5a1458" stroke-width="0.3"/>
<polygon points="663.6,380.35 667.23,374.08 659.97,374.08" fill="#5a1458" stroke="#5a1458" stroke-width="0.3"/>
<polygon points="668.6,384.71 672.23,378.44 664.97,378.44" fill="#5a1458" stroke="#5a1458" stroke-width="0.3"/>
<path d="M591.2,260V256.5H663.9V369" fill="none" stroke="#000" stroke-width="1.4"/>
<path d="M591.2,273.8V267H639.6V354" fill="none" stroke="#000" stroke-width="1.4"/>
<path d="M591.2,285.4V278.7H615.5V341" fill="none" stroke="#000" stroke-width="1.4"/>
<path d="M621.01,251.3L621.01,254.5M619.63,252.1L622.4,253.7M619.63,253.7L622.4,252.1" stroke="#000" stroke-width="0.95"/>
<circle cx="621.01" cy="252.9" r="0.8" fill="#000"/>
<path d="M625.14,251.3L625.14,254.5M623.75,252.1L626.52,253.7M623.75,253.7L626.52,252.1" stroke="#000" stroke-width="0.95"/>
<circle cx="625.14" cy="252.9" r="0.8" fill="#000"/>
<path d="M629.26,251.3L629.26,254.5M627.88,252.1L630.65,253.7M627.88,253.7L630.65,252.1" stroke="#000" stroke-width="0.95"/>
<circle cx="629.26" cy="252.9" r="0.8" fill="#000"/>
<path d="M633.39,251.3L633.39,254.5M632,252.1L634.77,253.7M632,253.7L634.77,252.1" stroke="#000" stroke-width="0.95"/>
<circle cx="633.39" cy="252.9" r="0.8" fill="#000"/>
<path d="M609.01,261.4L609.01,264.6M607.63,262.2L610.4,263.8M607.63,263.8L610.4,262.2" stroke="#000" stroke-width="0.95"/>
<circle cx="609.01" cy="263" r="0.8" fill="#000"/>
<path d="M613.14,261.4L613.14,264.6M611.75,262.2L614.52,263.8M611.75,263.8L614.52,262.2" stroke="#000" stroke-width="0.95"/>
<circle cx="613.14" cy="263" r="0.8" fill="#000"/>
<path d="M617.26,261.4L617.26,264.6M615.88,262.2L618.65,263.8M615.88,263.8L618.65,262.2" stroke="#000" stroke-width="0.95"/>
<circle cx="617.26" cy="263" r="0.8" fill="#000"/>
<path d="M621.39,261.4L621.39,264.6M620,262.2L622.77,263.8M620,263.8L622.77,262.2" stroke="#000" stroke-width="0.95"/>
<circle cx="621.39" cy="263" r="0.8" fill="#000"/>
<path d="M597.11,273L597.11,276.2M595.73,273.8L598.5,275.4M595.73,275.4L598.5,273.8" stroke="#000" stroke-width="0.95"/>
<circle cx="597.11" cy="274.6" r="0.8" fill="#000"/>
<path d="M601.24,273L601.24,276.2M599.85,273.8L602.62,275.4M599.85,275.4L602.62,273.8" stroke="#000" stroke-width="0.95"/>
<circle cx="601.24" cy="274.6" r="0.8" fill="#000"/>
<path d="M605.36,273L605.36,276.2M603.98,273.8L606.75,275.4M603.98,275.4L606.75,273.8" stroke="#000" stroke-width="0.95"/>
<circle cx="605.36" cy="274.6" r="0.8" fill="#000"/>
<path d="M609.49,273L609.49,276.2M608.1,273.8L610.87,275.4M608.1,275.4L610.87,273.8" stroke="#000" stroke-width="0.95"/>
<circle cx="609.49" cy="274.6" r="0.8" fill="#000"/>
<line x1="551.2" y1="255.5" x2="551.2" y2="385.3" stroke="#000" stroke-width="1.65" />
<line x1="550.4" y1="384.5" x2="680.5" y2="384.5" stroke="#000" stroke-width="1.65" />
<line x1="546.2" y1="384.5" x2="551.2" y2="384.5" stroke="#000" stroke-width="1.5" />
<text x="544.7" y="387.56" font-family='"Liberation Serif", serif' font-size="9.0" font-weight="bold" fill="#000" text-anchor="end" stroke="#000" stroke-width="0.2" >0</text>
<line x1="546.2" y1="371.68" x2="551.2" y2="371.68" stroke="#000" stroke-width="1.5" />
<text x="544.7" y="374.74" font-family='"Liberation Serif", serif' font-size="9.0" font-weight="bold" fill="#000" text-anchor="end" stroke="#000" stroke-width="0.2" >1</text>
<line x1="546.2" y1="358.86" x2="551.2" y2="358.86" stroke="#000" stroke-width="1.5" />
<text x="544.7" y="361.92" font-family='"Liberation Serif", serif' font-size="9.0" font-weight="bold" fill="#000" text-anchor="end" stroke="#000" stroke-width="0.2" >2</text>
<line x1="546.2" y1="346.04" x2="551.2" y2="346.04" stroke="#000" stroke-width="1.5" />
<text x="544.7" y="349.1" font-family='"Liberation Serif", serif' font-size="9.0" font-weight="bold" fill="#000" text-anchor="end" stroke="#000" stroke-width="0.2" >3</text>
<line x1="546.2" y1="333.22" x2="551.2" y2="333.22" stroke="#000" stroke-width="1.5" />
<text x="544.7" y="336.28" font-family='"Liberation Serif", serif' font-size="9.0" font-weight="bold" fill="#000" text-anchor="end" stroke="#000" stroke-width="0.2" >4</text>
<line x1="546.2" y1="320.4" x2="551.2" y2="320.4" stroke="#000" stroke-width="1.5" />
<text x="544.7" y="323.46" font-family='"Liberation Serif", serif' font-size="9.0" font-weight="bold" fill="#000" text-anchor="end" stroke="#000" stroke-width="0.2" >5</text>
<line x1="546.2" y1="307.58" x2="551.2" y2="307.58" stroke="#000" stroke-width="1.5" />
<text x="544.7" y="310.64" font-family='"Liberation Serif", serif' font-size="9.0" font-weight="bold" fill="#000" text-anchor="end" stroke="#000" stroke-width="0.2" >6</text>
<line x1="546.2" y1="294.76" x2="551.2" y2="294.76" stroke="#000" stroke-width="1.5" />
<text x="544.7" y="297.82" font-family='"Liberation Serif", serif' font-size="9.0" font-weight="bold" fill="#000" text-anchor="end" stroke="#000" stroke-width="0.2" >7</text>
<line x1="546.2" y1="281.94" x2="551.2" y2="281.94" stroke="#000" stroke-width="1.5" />
<text x="544.7" y="285" font-family='"Liberation Serif", serif' font-size="9.0" font-weight="bold" fill="#000" text-anchor="end" stroke="#000" stroke-width="0.2" >8</text>
<line x1="546.2" y1="269.12" x2="551.2" y2="269.12" stroke="#000" stroke-width="1.5" />
<text x="544.7" y="272.18" font-family='"Liberation Serif", serif' font-size="9.0" font-weight="bold" fill="#000" text-anchor="end" stroke="#000" stroke-width="0.2" >9</text>
<line x1="546.2" y1="256.3" x2="551.2" y2="256.3" stroke="#000" stroke-width="1.5" />
<text x="544.7" y="259.36" font-family='"Liberation Serif", serif' font-size="9.0" font-weight="bold" fill="#000" text-anchor="end" stroke="#000" stroke-width="0.2" >10</text>
<line x1="567.1" y1="384.5" x2="567.1" y2="389.5" stroke="#000" stroke-width="1.5" />
<line x1="590.8" y1="384.5" x2="590.8" y2="389.5" stroke="#000" stroke-width="1.5" />
<line x1="615.2" y1="384.5" x2="615.2" y2="389.5" stroke="#000" stroke-width="1.5" />
<line x1="639.3" y1="384.5" x2="639.3" y2="389.5" stroke="#000" stroke-width="1.5" />
<line x1="664" y1="384.5" x2="664" y2="389.5" stroke="#000" stroke-width="1.5" />
<text transform="translate(570.5,397.1) rotate(-45)" font-family='"Liberation Serif", serif' font-size="8.0" font-weight="bold" stroke="#000" stroke-width="0.2" text-anchor="end">Inoculation</text>
<text transform="translate(594.2,397.1) rotate(-45)" font-family='"Liberation Serif", serif' font-size="8.0" font-weight="bold" stroke="#000" stroke-width="0.2" text-anchor="end">DMSO</text>
<text transform="translate(618.6,397.1) rotate(-45)" font-family='"Liberation Serif", serif' font-size="8.0" font-weight="bold" stroke="#000" stroke-width="0.2" text-anchor="end">ILF 1.25</text>
<text transform="translate(642.7,397.1) rotate(-45)" font-family='"Liberation Serif", serif' font-size="8.0" font-weight="bold" stroke="#000" stroke-width="0.2" text-anchor="end">ILF 2.5</text>
<text transform="translate(667.4,397.1) rotate(-45)" font-family='"Liberation Serif", serif' font-size="8.0" font-weight="bold" stroke="#000" stroke-width="0.2" text-anchor="end">RIF 1</text>
<text transform="translate(530,320.5) rotate(-90)" font-family='"Liberation Serif", serif' font-size="9.3" font-weight="bold" stroke="#000" stroke-width="0.2" text-anchor="middle">Log<tspan font-size="7.5" dy="2.5">10</tspan><tspan dy="-2.5">CFU mL</tspan><tspan font-size="7.5" dy="-4">-1</tspan></text>
</svg>
</body></html>
